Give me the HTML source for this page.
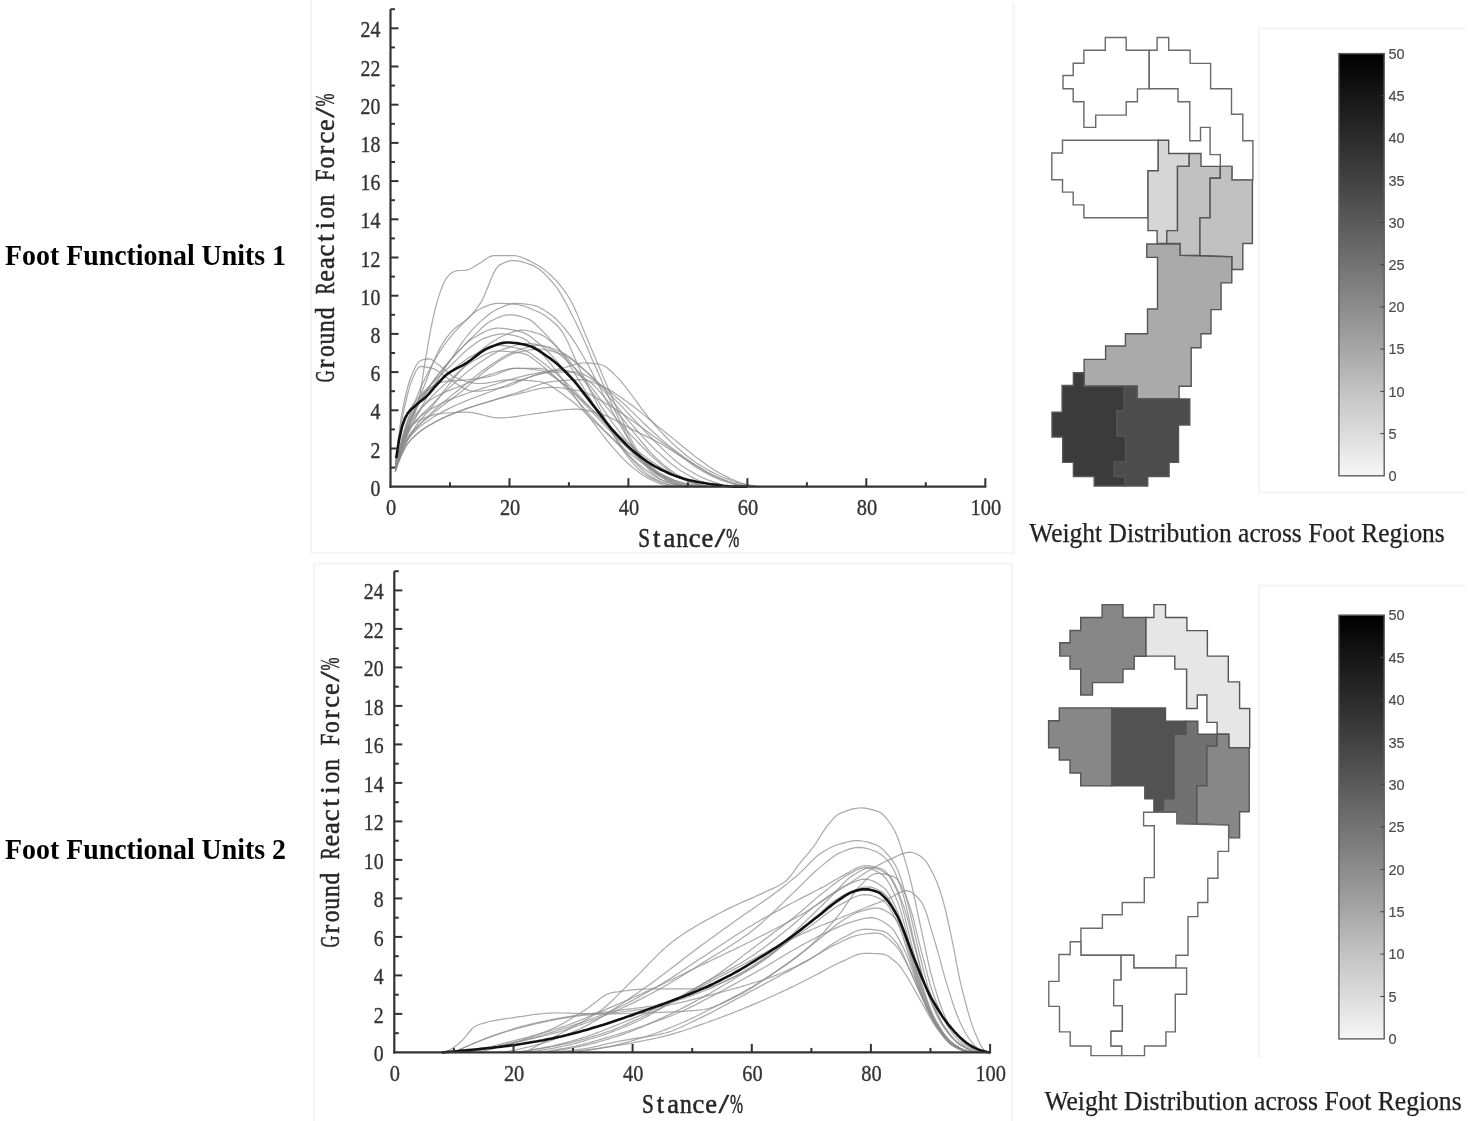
<!DOCTYPE html><html><head><meta charset="utf-8"><style>
html,body{margin:0;padding:0;background:#fff;}body{width:1468px;height:1121px;overflow:hidden;}
svg{display:block;}
.tk{font-family:"Liberation Serif",serif;font-size:21px;fill:#333;stroke:#333;stroke-width:0.35px;}.tky{font-size:22.5px;}
.al{font-family:"Liberation Serif",serif;font-size:26.5px;fill:#262626;stroke:#262626;stroke-width:0.5px;}
.ft{font-family:"Liberation Serif",serif;font-size:28.5px;font-weight:bold;fill:#000;}
.cap{font-family:"Liberation Serif",serif;font-size:26.5px;fill:#222;stroke:#222;stroke-width:0.25px;}
.cb{font-family:"Liberation Sans",sans-serif;font-size:14.5px;fill:#4a4a4a;stroke:#4a4a4a;stroke-width:0.15px;}
</style></head><body>
<svg width="1468" height="1121" viewBox="0 0 1468 1121">
<defs><linearGradient id="g1" x1="0" y1="0" x2="0" y2="1"><stop offset="0.00" stop-color="#000"/><stop offset="0.10" stop-color="#161616"/><stop offset="0.20" stop-color="#2b2b2b"/><stop offset="0.30" stop-color="#424242"/><stop offset="0.40" stop-color="#5a5a5a"/><stop offset="0.50" stop-color="#737373"/><stop offset="0.60" stop-color="#8c8c8c"/><stop offset="0.70" stop-color="#a6a6a6"/><stop offset="0.80" stop-color="#c3c3c3"/><stop offset="0.90" stop-color="#dcdcdc"/><stop offset="1.00" stop-color="#f6f6f6"/></linearGradient></defs>
<rect width="1468" height="1121" fill="#fff"/>
<g fill="none" stroke="#f4f4f4" stroke-width="2"><polyline points="311,0 311,553 1013.5,553 1013.5,3"/><polyline points="314,1121 314,563.5 1012,563.5 1012,1121"/><polyline points="1465,28.5 1259,28.5 1259,492.5 1465,492.5"/><polyline points="1465,585.6 1259,585.6 1259,1058"/></g>
<text x="5" y="265" class="ft" textLength="281" lengthAdjust="spacingAndGlyphs">Foot Functional Units 1</text>
<text x="5" y="858.5" class="ft" textLength="281" lengthAdjust="spacingAndGlyphs">Foot Functional Units 2</text>
<g fill="none" stroke="#8c8c8c" stroke-width="1.2" stroke-opacity="0.75">
<path d="M395.3,471.4 398.2,459.5 401.2,448.5 404.2,438.5 407.2,429.7 410.1,422.9 413.1,417.0 416.1,410.1 419.1,399.6 422.0,382.0 425.0,362.2 428.0,344.7 430.9,328.2 433.9,314.4 436.9,302.3 439.9,292.9 442.8,285.1 445.8,279.0 448.8,275.4 451.8,272.8 454.7,271.2 457.7,270.7 460.7,270.5 463.7,270.4 466.6,270.1 469.6,269.3 472.6,267.7 475.6,265.8 478.5,263.9 481.5,262.2 484.5,260.1 487.5,258.1 490.4,256.4 493.4,255.6 496.4,255.6 499.3,255.6 502.3,255.6 505.3,255.6 508.3,255.6 511.2,255.6 514.2,255.6 517.2,256.0 520.2,256.8 523.1,257.8 526.1,259.1 529.1,260.6 532.1,262.2 535.0,263.8 538.0,265.5 541.0,267.3 544.0,269.5 546.9,271.9 549.9,274.5 552.9,277.3 555.9,280.3 558.8,283.6 561.8,287.3 564.8,291.3 567.8,295.7 570.7,300.5 573.7,306.3 576.7,312.9 579.6,320.1 582.6,327.6 585.6,334.9 588.6,341.9 591.5,349.0 594.5,356.1 597.5,363.2 600.5,370.3 603.4,377.3 606.4,384.3 609.4,391.2 612.4,398.1 615.3,404.9 618.3,411.5 621.3,418.1 624.3,424.8 627.2,431.4 630.2,437.7 633.2,443.5 636.2,448.5 639.1,453.1 642.1,457.4 645.1,461.6 648.0,465.4 651.0,468.8 654.0,471.8 657.0,474.2 659.9,476.3 662.9,478.1 665.9,479.9 668.9,481.4 671.8,482.8 674.8,483.8 677.8,484.6 680.8,485.1 683.7,485.5 686.7,485.9 689.7,486.2 692.7,486.4 695.6,486.6 698.6,486.7 699.8,486.7"/>
<path d="M395.3,471.4 398.2,461.0 401.2,451.0 404.2,441.4 407.2,432.0 410.1,423.1 413.1,414.6 416.1,406.5 419.1,398.8 422.0,391.3 425.0,383.9 428.0,376.3 430.9,368.4 433.9,360.8 436.9,353.9 439.9,348.1 442.8,343.2 445.8,338.7 448.8,334.8 451.8,331.3 454.7,328.4 457.7,326.1 460.7,324.1 463.7,322.0 466.6,319.7 469.6,316.9 472.6,313.6 475.6,310.0 478.5,305.9 481.5,301.4 484.5,295.3 487.5,288.0 490.4,280.5 493.4,273.6 496.4,268.2 499.3,265.1 502.3,263.6 505.3,262.2 508.3,261.2 511.2,260.7 514.2,260.6 517.2,260.9 520.2,261.4 523.1,262.1 526.1,263.0 529.1,264.1 532.1,265.1 535.0,266.5 538.0,268.4 541.0,270.7 544.0,273.3 546.9,276.3 549.9,279.5 552.9,282.9 555.9,286.5 558.8,290.7 561.8,295.6 564.8,300.9 567.8,306.5 570.7,312.4 573.7,318.3 576.7,324.2 579.6,330.5 582.6,337.0 585.6,343.8 588.6,350.7 591.5,357.7 594.5,364.6 597.5,371.3 600.5,378.1 603.4,384.9 606.4,391.7 609.4,398.5 612.4,405.2 615.3,411.6 618.3,417.8 621.3,423.8 624.3,429.8 627.2,435.8 630.2,441.7 633.2,447.4 636.2,452.6 639.1,457.4 642.1,461.6 645.1,465.1 648.0,468.4 651.0,471.5 654.0,474.3 657.0,476.8 659.9,478.9 662.9,480.5 665.9,481.6 668.9,482.7 671.8,483.7 674.8,484.6 677.8,485.4 680.8,486.0 683.7,486.5 686.7,486.7 687.9,486.7"/>
<path d="M395.3,467.6 398.2,455.5 401.2,444.0 404.2,433.3 407.2,423.5 410.1,414.7 413.1,406.4 416.1,398.7 419.1,391.5 422.0,384.7 425.0,378.4 428.0,372.4 430.9,366.7 433.9,361.3 436.9,356.2 439.9,351.5 442.8,347.0 445.8,342.9 448.8,339.0 451.8,335.4 454.7,331.9 457.7,328.6 460.7,325.5 463.7,322.6 466.6,319.6 469.6,316.7 472.6,314.0 475.6,311.6 478.5,309.7 481.5,308.2 484.5,306.9 487.5,305.6 490.4,304.6 493.4,303.8 496.4,303.4 499.3,303.4 502.3,303.4 505.3,303.6 508.3,303.7 511.2,303.9 514.2,304.2 517.2,304.5 520.2,305.1 523.1,305.8 526.1,306.8 529.1,307.9 532.1,309.2 535.0,310.5 538.0,311.8 541.0,313.3 544.0,315.1 546.9,317.1 549.9,319.3 552.9,321.8 555.9,324.5 558.8,327.5 561.8,331.2 564.8,336.2 567.8,342.1 570.7,348.7 573.7,355.6 576.7,362.4 579.6,368.9 582.6,374.9 585.6,380.9 588.6,386.9 591.5,392.8 594.5,398.7 597.5,404.6 600.5,410.2 603.4,415.8 606.4,421.4 609.4,427.0 612.4,432.6 615.3,438.0 618.3,443.1 621.3,447.8 624.3,452.1 627.2,456.0 630.2,459.7 633.2,463.3 636.2,466.6 639.1,469.7 642.1,472.3 645.1,474.5 648.0,476.3 651.0,477.9 654.0,479.4 657.0,480.8 659.9,482.0 662.9,483.0 665.9,483.9 668.9,484.6 671.8,485.1 674.8,485.5 677.8,486.0 680.8,486.3 683.7,486.6 686.7,486.7 687.9,486.7"/>
<path d="M395.3,467.6 398.2,459.1 401.2,450.9 404.2,443.1 407.2,435.9 410.1,429.3 413.1,423.1 416.1,417.2 419.1,411.6 422.0,406.2 425.0,400.9 428.0,395.7 430.9,390.6 433.9,385.7 436.9,380.8 439.9,376.1 442.8,371.4 445.8,366.9 448.8,362.4 451.8,358.0 454.7,353.5 457.7,349.1 460.7,344.7 463.7,340.5 466.6,336.5 469.6,332.8 472.6,329.4 475.6,326.4 478.5,323.4 481.5,320.6 484.5,318.0 487.5,315.5 490.4,313.3 493.4,311.3 496.4,309.6 499.3,308.3 502.3,306.9 505.3,305.7 508.3,304.6 511.2,303.8 514.2,303.4 517.2,303.4 520.2,303.5 523.1,303.8 526.1,304.1 529.1,304.5 532.1,305.0 535.0,305.7 538.0,306.7 541.0,308.2 544.0,309.9 546.9,311.9 549.9,314.0 552.9,316.2 555.9,318.8 558.8,321.8 561.8,325.1 564.8,328.7 567.8,332.4 570.7,336.3 573.7,340.6 576.7,345.2 579.6,350.2 582.6,355.3 585.6,360.5 588.6,365.7 591.5,371.3 594.5,377.1 597.5,383.0 600.5,388.9 603.4,394.7 606.4,400.3 609.4,405.9 612.4,411.5 615.3,417.0 618.3,422.3 621.3,427.4 624.3,432.3 627.2,437.1 630.2,441.8 633.2,446.3 636.2,450.6 639.1,454.6 642.1,458.4 645.1,462.1 648.0,465.8 651.0,469.1 654.0,472.1 657.0,474.5 659.9,476.3 662.9,477.9 665.9,479.4 668.9,480.8 671.8,482.0 674.8,483.0 677.8,483.9 680.8,484.6 683.7,485.1 686.7,485.5 689.7,486.0 692.7,486.3 695.6,486.6 698.6,486.7 699.8,486.7"/>
<path d="M395.3,467.6 398.2,456.0 401.2,445.1 404.2,435.2 407.2,426.7 410.1,419.5 413.1,413.3 416.1,407.6 419.1,402.4 422.0,397.6 425.0,393.0 428.0,388.5 430.9,384.3 433.9,380.2 436.9,376.3 439.9,372.6 442.8,369.0 445.8,365.5 448.8,362.0 451.8,358.6 454.7,355.3 457.7,352.0 460.7,348.8 463.7,345.7 466.6,342.7 469.6,339.8 472.6,336.9 475.6,334.1 478.5,331.2 481.5,328.3 484.5,325.5 487.5,323.1 490.4,321.1 493.4,319.7 496.4,318.3 499.3,317.1 502.3,316.0 505.3,315.2 508.3,314.8 511.2,314.9 514.2,315.2 517.2,315.7 520.2,316.4 523.1,317.3 526.1,318.2 529.1,319.4 532.1,321.3 535.0,323.7 538.0,326.6 541.0,329.6 544.0,332.7 546.9,335.7 549.9,338.9 552.9,342.2 555.9,345.7 558.8,349.4 561.8,353.3 564.8,357.4 567.8,361.9 570.7,366.7 573.7,371.7 576.7,376.7 579.6,381.6 582.6,386.4 585.6,391.3 588.6,396.1 591.5,400.9 594.5,405.7 597.5,410.4 600.5,415.0 603.4,419.6 606.4,424.1 609.4,428.6 612.4,433.0 615.3,437.3 618.3,441.4 621.3,445.6 624.3,449.6 627.2,453.5 630.2,457.2 633.2,460.6 636.2,463.7 639.1,466.7 642.1,469.5 645.1,472.1 648.0,474.4 651.0,476.5 654.0,478.1 657.0,479.7 659.9,481.2 662.9,482.6 665.9,483.9 668.9,485.0 671.8,485.9 674.8,486.5 676.0,486.7"/>
<path d="M395.3,467.6 398.2,459.7 401.2,452.1 404.2,445.2 407.2,439.2 410.1,434.1 413.1,429.6 416.1,425.6 419.1,421.9 422.0,418.4 425.0,415.0 428.0,411.6 430.9,408.0 433.9,404.2 436.9,400.3 439.9,396.3 442.8,392.4 445.8,388.5 448.8,384.6 451.8,380.9 454.7,377.3 457.7,373.9 460.7,370.4 463.7,367.0 466.6,363.7 469.6,360.5 472.6,357.5 475.6,354.7 478.5,352.1 481.5,349.7 484.5,347.4 487.5,345.2 490.4,343.1 493.4,341.2 496.4,339.4 499.3,337.8 502.3,336.3 505.3,335.0 508.3,333.7 511.2,332.5 514.2,331.4 517.2,330.6 520.2,330.1 523.1,330.1 526.1,330.4 529.1,331.0 532.1,331.7 535.0,332.6 538.0,333.5 541.0,334.6 544.0,336.2 546.9,338.3 549.9,340.8 552.9,343.4 555.9,346.2 558.8,349.0 561.8,352.1 564.8,355.5 567.8,359.2 570.7,362.9 573.7,366.8 576.7,370.6 579.6,374.6 582.6,378.7 585.6,382.8 588.6,387.1 591.5,391.4 594.5,395.7 597.5,400.2 600.5,404.8 603.4,409.4 606.4,413.9 609.4,418.2 612.4,422.3 615.3,426.3 618.3,430.2 621.3,434.1 624.3,437.8 627.2,441.4 630.2,444.8 633.2,448.2 636.2,451.5 639.1,454.7 642.1,457.8 645.1,460.7 648.0,463.6 651.0,466.5 654.0,469.4 657.0,472.1 659.9,474.5 662.9,476.5 665.9,478.1 668.9,479.6 671.8,481.0 674.8,482.2 677.8,483.4 680.8,484.4 683.7,485.1 686.7,485.6 689.7,485.9 692.7,486.1 695.6,486.4 698.6,486.5 701.6,486.6 704.6,486.7 705.7,486.7"/>
<path d="M395.3,463.8 398.2,444.8 401.2,429.7 404.2,420.7 407.2,414.1 410.1,408.8 413.1,404.3 416.1,400.3 419.1,396.7 422.0,393.5 425.0,390.5 428.0,387.6 430.9,384.8 433.9,381.8 436.9,378.8 439.9,376.0 442.8,373.2 445.8,370.3 448.8,367.5 451.8,364.6 454.7,361.6 457.7,358.6 460.7,355.6 463.7,352.7 466.6,350.1 469.6,347.8 472.6,345.5 475.6,343.3 478.5,341.3 481.5,339.5 484.5,338.1 487.5,337.1 490.4,336.2 493.4,335.4 496.4,334.7 499.3,334.2 502.3,333.9 505.3,334.0 508.3,334.3 511.2,334.8 514.2,335.5 517.2,336.4 520.2,337.3 523.1,338.4 526.1,340.1 529.1,342.2 532.1,344.6 535.0,347.3 538.0,350.0 541.0,352.8 544.0,355.9 546.9,359.4 549.9,363.0 552.9,366.8 555.9,370.6 558.8,374.4 561.8,378.4 564.8,382.6 567.8,386.8 570.7,391.0 573.7,395.3 576.7,399.4 579.6,403.6 582.6,407.8 585.6,412.0 588.6,416.1 591.5,420.2 594.5,424.1 597.5,428.1 600.5,432.0 603.4,435.9 606.4,439.7 609.4,443.3 612.4,446.8 615.3,450.2 618.3,453.6 621.3,456.8 624.3,459.9 627.2,462.7 630.2,465.3 633.2,467.9 636.2,470.3 639.1,472.6 642.1,474.7 645.1,476.5 648.0,478.1 651.0,479.6 654.0,481.0 657.0,482.4 659.9,483.6 662.9,484.7 665.9,485.7 668.9,486.4 670.1,486.7"/>
<path d="M395.3,467.6 398.2,457.7 401.2,448.4 404.2,440.2 407.2,433.5 410.1,428.5 413.1,424.2 416.1,420.6 419.1,417.3 422.0,414.3 425.0,411.5 428.0,408.7 430.9,405.8 433.9,402.7 436.9,399.7 439.9,396.7 442.8,393.8 445.8,390.9 448.8,388.1 451.8,385.4 454.7,382.7 457.7,380.1 460.7,377.5 463.7,374.9 466.6,372.4 469.6,370.0 472.6,367.7 475.6,365.4 478.5,363.3 481.5,361.4 484.5,359.4 487.5,357.5 490.4,355.6 493.4,353.9 496.4,352.3 499.3,350.8 502.3,349.6 505.3,348.6 508.3,347.6 511.2,346.6 514.2,345.7 517.2,344.8 520.2,344.2 523.1,343.7 526.1,343.5 529.1,343.5 532.1,343.8 535.0,344.2 538.0,344.9 541.0,345.7 544.0,346.6 546.9,347.7 549.9,348.7 552.9,350.0 555.9,351.7 558.8,353.8 561.8,356.2 564.8,358.8 567.8,361.5 570.7,364.2 573.7,367.1 576.7,370.2 579.6,373.4 582.6,376.8 585.6,380.3 588.6,383.8 591.5,387.5 594.5,391.4 597.5,395.3 600.5,399.3 603.4,403.1 606.4,406.8 609.4,410.4 612.4,413.9 615.3,417.4 618.3,420.9 621.3,424.2 624.3,427.6 627.2,430.9 630.2,434.1 633.2,437.3 636.2,440.4 639.1,443.5 642.1,446.5 645.1,449.5 648.0,452.5 651.0,455.4 654.0,458.2 657.0,460.9 659.9,463.4 662.9,465.9 665.9,468.3 668.9,470.6 671.8,472.7 674.8,474.6 677.8,476.2 680.8,477.7 683.7,479.2 686.7,480.6 689.7,481.8 692.7,482.9 695.6,483.9 698.6,484.6 701.6,485.1 704.6,485.5 707.5,486.0 710.5,486.3 713.5,486.6 716.5,486.7 717.6,486.7"/>
<path d="M395.3,467.6 398.2,439.9 401.2,417.3 404.2,401.4 407.2,388.7 410.1,379.0 413.1,371.7 416.1,365.5 419.1,361.4 422.0,360.0 425.0,359.2 428.0,358.8 430.9,359.1 433.9,361.1 436.9,363.6 439.9,365.8 442.8,368.2 445.8,370.8 448.8,373.3 451.8,375.6 454.7,377.3 457.7,378.5 460.7,379.6 463.7,380.6 466.6,381.5 469.6,382.3 472.6,382.9 475.6,383.3 478.5,383.5 481.5,383.5 484.5,383.3 487.5,382.9 490.4,382.4 493.4,381.9 496.4,381.3 499.3,380.8 502.3,380.3 505.3,379.9 508.3,379.8 511.2,379.7 514.2,379.8 517.2,379.9 520.2,380.0 523.1,380.2 526.1,380.4 529.1,380.6 532.1,380.9 535.0,381.2 538.0,381.5 541.0,381.9 544.0,382.8 546.9,384.0 549.9,385.5 552.9,387.3 555.9,389.3 558.8,391.4 561.8,393.6 564.8,395.8 567.8,398.0 570.7,400.1 573.7,402.5 576.7,405.0 579.6,407.6 582.6,410.4 585.6,413.2 588.6,416.0 591.5,418.9 594.5,421.7 597.5,424.5 600.5,427.2 603.4,429.9 606.4,432.7 609.4,435.5 612.4,438.2 615.3,441.0 618.3,443.7 621.3,446.3 624.3,448.9 627.2,451.4 630.2,453.7 633.2,456.1 636.2,458.5 639.1,460.8 642.1,463.1 645.1,465.3 648.0,467.4 651.0,469.4 654.0,471.2 657.0,472.8 659.9,474.2 662.9,475.5 665.9,476.8 668.9,478.1 671.8,479.2 674.8,480.3 677.8,481.3 680.8,482.2 683.7,483.0 686.7,483.6 689.7,484.1 692.7,484.7 695.6,485.1 698.6,485.6 701.6,486.0 704.6,486.3 707.5,486.5 710.5,486.7 711.7,486.7"/>
<path d="M395.3,467.6 398.2,444.3 401.2,424.5 404.2,408.9 407.2,395.5 410.1,384.9 413.1,377.3 416.1,370.7 419.1,366.8 422.0,366.4 425.0,366.8 428.0,367.3 430.9,368.0 433.9,368.9 436.9,370.4 439.9,372.4 442.8,374.7 445.8,377.0 448.8,379.0 451.8,380.8 454.7,382.6 457.7,384.5 460.7,386.4 463.7,388.1 466.6,389.6 469.6,390.6 472.6,391.1 475.6,391.2 478.5,391.1 481.5,390.8 484.5,390.5 487.5,390.2 490.4,389.7 493.4,389.3 496.4,388.7 499.3,388.2 502.3,387.6 505.3,387.0 508.3,386.1 511.2,385.0 514.2,383.8 517.2,382.4 520.2,381.1 523.1,379.7 526.1,378.4 529.1,377.2 532.1,376.2 535.0,375.5 538.0,374.7 541.0,373.9 544.0,373.1 546.9,372.4 549.9,371.7 552.9,371.1 555.9,370.7 558.8,370.4 561.8,370.2 564.8,370.3 567.8,370.7 570.7,371.6 573.7,372.7 576.7,374.1 579.6,375.6 582.6,377.3 585.6,379.0 588.6,380.9 591.5,383.2 594.5,386.0 597.5,389.2 600.5,392.6 603.4,396.2 606.4,399.7 609.4,403.2 612.4,406.6 615.3,410.1 618.3,413.6 621.3,417.3 624.3,421.0 627.2,424.6 630.2,428.3 633.2,431.8 636.2,435.3 639.1,438.9 642.1,442.5 645.1,446.0 648.0,449.5 651.0,452.9 654.0,456.0 657.0,458.9 659.9,461.5 662.9,464.1 665.9,466.6 668.9,468.9 671.8,471.1 674.8,473.2 677.8,475.0 680.8,476.6 683.7,478.0 686.7,479.3 689.7,480.5 692.7,481.7 695.6,482.8 698.6,483.8 701.6,484.7 704.6,485.5 707.5,486.1 710.5,486.6 711.7,486.7"/>
<path d="M395.3,467.6 398.2,454.8 401.2,443.6 404.2,435.4 407.2,430.7 410.1,427.2 413.1,424.4 416.1,422.1 419.1,420.4 422.0,419.1 425.0,417.9 428.0,416.7 430.9,415.8 433.9,414.9 436.9,414.2 439.9,413.6 442.8,413.3 445.8,413.0 448.8,412.8 451.8,412.7 454.7,412.5 457.7,412.4 460.7,412.3 463.7,412.2 466.6,412.2 469.6,412.3 472.6,412.7 475.6,413.3 478.5,413.9 481.5,414.7 484.5,415.5 487.5,416.2 490.4,416.9 493.4,417.4 496.4,417.8 499.3,417.9 502.3,417.9 505.3,417.7 508.3,417.5 511.2,417.2 514.2,416.8 517.2,416.4 520.2,415.9 523.1,415.4 526.1,415.0 529.1,414.5 532.1,414.1 535.0,413.6 538.0,413.3 541.0,412.9 544.0,412.5 546.9,412.1 549.9,411.6 552.9,411.2 555.9,410.8 558.8,410.4 561.8,410.0 564.8,409.7 567.8,409.5 570.7,409.3 573.7,409.2 576.7,409.2 579.6,409.3 582.6,409.7 585.6,410.2 588.6,410.8 591.5,411.5 594.5,412.3 597.5,413.1 600.5,414.0 603.4,414.9 606.4,415.9 609.4,417.2 612.4,418.6 615.3,420.2 618.3,421.9 621.3,423.6 624.3,425.3 627.2,426.9 630.2,428.4 633.2,429.9 636.2,431.4 639.1,432.8 642.1,434.2 645.1,435.6 648.0,437.1 651.0,438.6 654.0,440.1 657.0,441.7 659.9,443.3 662.9,445.1 665.9,446.9 668.9,448.7 671.8,450.6 674.8,452.5 677.8,454.4 680.8,456.2 683.7,458.1 686.7,459.9 689.7,461.8 692.7,463.7 695.6,465.6 698.6,467.4 701.6,469.2 704.6,471.0 707.5,472.6 710.5,474.1 713.5,475.5 716.5,476.8 719.4,478.2 722.4,479.4 725.4,480.6 728.3,481.8 731.3,482.8 734.3,483.7 737.3,484.4 740.2,485.0 743.2,485.5 746.2,486.0 749.2,486.4 752.1,486.6 753.3,486.7"/>
<path d="M395.3,471.4 398.2,461.1 401.2,451.2 404.2,442.1 407.2,434.3 410.1,428.2 413.1,424.1 416.1,420.8 419.1,417.9 422.0,415.3 425.0,413.0 428.0,411.0 430.9,409.1 433.9,407.4 436.9,405.8 439.9,404.3 442.8,402.8 445.8,401.4 448.8,400.1 451.8,398.9 454.7,397.8 457.7,396.7 460.7,395.6 463.7,394.6 466.6,393.5 469.6,392.5 472.6,391.5 475.6,390.5 478.5,389.5 481.5,388.6 484.5,387.6 487.5,386.7 490.4,385.8 493.4,384.9 496.4,384.0 499.3,383.0 502.3,382.1 505.3,381.1 508.3,380.2 511.2,379.3 514.2,378.4 517.2,377.6 520.2,376.8 523.1,376.1 526.1,375.4 529.1,374.7 532.1,374.1 535.0,373.5 538.0,372.9 541.0,372.4 544.0,371.8 546.9,371.3 549.9,370.7 552.9,370.1 555.9,369.5 558.8,368.9 561.8,368.3 564.8,367.5 567.8,366.6 570.7,365.7 573.7,364.7 576.7,363.9 579.6,363.3 582.6,363.0 585.6,363.0 588.6,363.1 591.5,363.3 594.5,363.6 597.5,364.0 600.5,364.5 603.4,365.5 606.4,367.3 609.4,369.7 612.4,372.5 615.3,375.4 618.3,378.3 621.3,381.6 624.3,385.4 627.2,389.2 630.2,393.1 633.2,397.0 636.2,401.1 639.1,405.2 642.1,409.3 645.1,413.2 648.0,416.9 651.0,420.4 654.0,424.0 657.0,427.4 659.9,430.7 662.9,433.9 665.9,437.0 668.9,439.9 671.8,442.8 674.8,445.6 677.8,448.2 680.8,450.8 683.7,453.3 686.7,455.7 689.7,458.0 692.7,460.2 695.6,462.3 698.6,464.3 701.6,466.2 704.6,468.1 707.5,469.8 710.5,471.4 713.5,472.9 716.5,474.3 719.4,475.7 722.4,477.0 725.4,478.3 728.3,479.4 731.3,480.5 734.3,481.5 737.3,482.4 740.2,483.2 743.2,483.9 746.2,484.6 749.2,485.2 752.1,485.7 755.1,486.2 758.1,486.6 759.3,486.7"/>
<path d="M395.3,471.4 398.2,462.5 401.2,454.0 404.2,446.6 407.2,440.7 410.1,436.6 413.1,433.1 416.1,430.0 419.1,427.3 422.0,424.9 425.0,422.7 428.0,420.7 430.9,418.7 433.9,416.8 436.9,415.0 439.9,413.3 442.8,411.6 445.8,410.1 448.8,408.6 451.8,407.2 454.7,405.8 457.7,404.5 460.7,403.2 463.7,401.9 466.6,400.6 469.6,399.4 472.6,398.3 475.6,397.2 478.5,396.1 481.5,395.0 484.5,393.9 487.5,392.8 490.4,391.7 493.4,390.5 496.4,389.3 499.3,388.1 502.3,386.9 505.3,385.7 508.3,384.5 511.2,383.3 514.2,382.2 517.2,381.1 520.2,380.1 523.1,379.2 526.1,378.2 529.1,377.2 532.1,376.1 535.0,375.1 538.0,374.2 541.0,373.4 544.0,372.8 546.9,372.4 549.9,372.1 552.9,372.1 555.9,372.1 558.8,372.1 561.8,372.1 564.8,372.1 567.8,372.1 570.7,372.1 573.7,372.1 576.7,372.2 579.6,372.8 582.6,373.9 585.6,375.4 588.6,377.1 591.5,379.0 594.5,380.9 597.5,382.8 600.5,384.7 603.4,386.7 606.4,388.9 609.4,391.3 612.4,393.8 615.3,396.4 618.3,399.0 621.3,401.6 624.3,404.3 627.2,407.0 630.2,409.9 633.2,412.8 636.2,415.8 639.1,418.7 642.1,421.6 645.1,424.5 648.0,427.2 651.0,430.0 654.0,432.7 657.0,435.4 659.9,438.1 662.9,440.7 665.9,443.2 668.9,445.6 671.8,448.0 674.8,450.3 677.8,452.6 680.8,454.8 683.7,457.0 686.7,459.0 689.7,461.1 692.7,463.0 695.6,464.9 698.6,466.8 701.6,468.6 704.6,470.4 707.5,472.2 710.5,473.8 713.5,475.3 716.5,476.7 719.4,477.9 722.4,479.1 725.4,480.2 728.3,481.3 731.3,482.3 734.3,483.2 737.3,484.0 740.2,484.6 743.2,485.1 746.2,485.5 749.2,485.9 752.1,486.3 755.1,486.5 758.1,486.7 759.3,486.7"/>
<path d="M395.3,467.6 398.2,456.0 401.2,445.0 404.2,435.4 407.2,427.9 410.1,422.6 413.1,418.0 416.1,413.9 419.1,410.3 422.0,407.1 425.0,404.3 428.0,401.8 430.9,399.6 433.9,397.7 436.9,396.0 439.9,394.5 442.8,393.1 445.8,391.8 448.8,390.6 451.8,389.4 454.7,388.3 457.7,387.1 460.7,386.0 463.7,384.7 466.6,383.5 469.6,382.2 472.6,381.0 475.6,379.8 478.5,378.6 481.5,377.4 484.5,376.3 487.5,375.3 490.4,374.4 493.4,373.5 496.4,372.5 499.3,371.6 502.3,370.6 505.3,369.8 508.3,369.1 511.2,368.6 514.2,368.3 517.2,368.3 520.2,368.4 523.1,368.5 526.1,368.7 529.1,369.0 532.1,369.3 535.0,369.6 538.0,370.0 541.0,370.5 544.0,371.5 546.9,372.8 549.9,374.5 552.9,376.4 555.9,378.5 558.8,380.6 561.8,382.7 564.8,384.8 567.8,387.1 570.7,389.6 573.7,392.3 576.7,395.0 579.6,397.8 582.6,400.7 585.6,403.5 588.6,406.2 591.5,409.1 594.5,411.9 597.5,414.9 600.5,417.8 603.4,420.7 606.4,423.6 609.4,426.4 612.4,429.1 615.3,431.9 618.3,434.6 621.3,437.3 624.3,440.0 627.2,442.6 630.2,445.1 633.2,447.5 636.2,449.9 639.1,452.2 642.1,454.5 645.1,456.7 648.0,458.9 651.0,461.0 654.0,463.0 657.0,464.9 659.9,466.8 662.9,468.7 665.9,470.5 668.9,472.3 671.8,474.1 674.8,475.7 677.8,477.2 680.8,478.6 683.7,479.8 686.7,480.9 689.7,482.1 692.7,483.1 695.6,484.1 698.6,485.0 701.6,485.8 704.6,486.5 705.7,486.7"/>
<path d="M395.3,467.6 398.2,457.4 401.2,447.8 404.2,439.3 407.2,431.9 410.1,425.9 413.1,420.7 416.1,415.9 419.1,411.7 422.0,407.7 425.0,404.1 428.0,400.6 430.9,397.3 433.9,394.3 436.9,391.4 439.9,388.6 442.8,386.0 445.8,383.4 448.8,380.8 451.8,378.2 454.7,375.5 457.7,372.8 460.7,370.2 463.7,367.7 466.6,365.3 469.6,363.2 472.6,361.3 475.6,359.7 478.5,358.0 481.5,356.4 484.5,354.8 487.5,353.5 490.4,352.4 493.4,351.5 496.4,351.1 499.3,351.1 502.3,351.2 505.3,351.3 508.3,351.5 511.2,351.8 514.2,352.1 517.2,352.4 520.2,352.8 523.1,353.4 526.1,354.4 529.1,356.0 532.1,357.9 535.0,360.1 538.0,362.5 541.0,364.9 544.0,367.3 546.9,369.7 549.9,372.2 552.9,374.9 555.9,377.8 558.8,380.7 561.8,383.8 564.8,386.9 567.8,390.0 570.7,393.1 573.7,396.3 576.7,399.7 579.6,403.1 582.6,406.5 585.6,409.9 588.6,413.3 591.5,416.6 594.5,419.9 597.5,423.1 600.5,426.2 603.4,429.3 606.4,432.5 609.4,435.5 612.4,438.6 615.3,441.6 618.3,444.6 621.3,447.6 624.3,450.7 627.2,453.7 630.2,456.7 633.2,459.5 636.2,462.2 639.1,464.8 642.1,467.1 645.1,469.4 648.0,471.6 651.0,473.8 654.0,475.8 657.0,477.6 659.9,479.2 662.9,480.5 665.9,481.6 668.9,482.6 671.8,483.6 674.8,484.4 677.8,485.2 680.8,485.8 683.7,486.3 686.7,486.6 687.9,486.7"/>
<path d="M395.3,467.6 398.2,456.6 401.2,446.2 404.2,436.8 407.2,428.5 410.1,421.5 413.1,415.0 416.1,409.0 419.1,403.6 422.0,398.8 425.0,394.6 428.0,391.0 430.9,387.8 433.9,385.0 436.9,382.4 439.9,379.9 442.8,377.6 445.8,375.3 448.8,373.0 451.8,370.7 454.7,368.3 457.7,365.9 460.7,363.6 463.7,361.3 466.6,359.2 469.6,357.3 472.6,355.5 475.6,354.0 478.5,352.3 481.5,350.7 484.5,349.2 487.5,347.8 490.4,346.6 493.4,345.8 496.4,345.4 499.3,345.4 502.3,345.6 505.3,345.9 508.3,346.3 511.2,346.8 514.2,347.5 517.2,348.1 520.2,348.9 523.1,349.7 526.1,351.0 529.1,352.6 532.1,354.5 535.0,356.7 538.0,358.9 541.0,361.3 544.0,363.6 546.9,365.8 549.9,368.2 552.9,370.7 555.9,373.3 558.8,376.0 561.8,378.7 564.8,381.5 567.8,384.3 570.7,387.2 573.7,390.2 576.7,393.2 579.6,396.4 582.6,399.5 585.6,402.7 588.6,405.9 591.5,409.1 594.5,412.2 597.5,415.3 600.5,418.4 603.4,421.6 606.4,424.7 609.4,427.8 612.4,430.9 615.3,433.9 618.3,436.9 621.3,439.9 624.3,442.9 627.2,445.9 630.2,448.9 633.2,451.7 636.2,454.5 639.1,457.1 642.1,459.5 645.1,462.0 648.0,464.4 651.0,466.7 654.0,468.9 657.0,471.0 659.9,472.9 662.9,474.6 665.9,476.2 668.9,477.7 671.8,479.1 674.8,480.5 677.8,481.8 680.8,482.9 683.7,483.9 686.7,484.6 689.7,485.1 692.7,485.5 695.6,486.0 698.6,486.3 701.6,486.6 704.6,486.7 705.7,486.7"/>
<path d="M395.3,469.5 398.2,460.6 401.2,452.3 404.2,444.9 407.2,438.9 410.1,434.6 413.1,430.9 416.1,427.7 419.1,424.9 422.0,422.3 425.0,419.9 428.0,417.5 430.9,415.1 433.9,412.6 436.9,410.2 439.9,407.8 442.8,405.6 445.8,403.3 448.8,401.1 451.8,398.9 454.7,396.7 457.7,394.5 460.7,392.1 463.7,389.7 466.6,387.2 469.6,384.6 472.6,382.0 475.6,379.3 478.5,376.7 481.5,374.1 484.5,371.7 487.5,369.3 490.4,367.2 493.4,365.2 496.4,363.1 499.3,361.1 502.3,359.2 505.3,357.4 508.3,355.8 511.2,354.4 514.2,353.3 517.2,352.6 520.2,351.8 523.1,351.2 526.1,350.6 529.1,350.0 532.1,349.6 535.0,349.3 538.0,349.2 541.0,349.2 544.0,349.5 546.9,350.0 549.9,350.7 552.9,351.5 555.9,352.4 558.8,353.4 561.8,354.5 564.8,355.6 567.8,357.2 570.7,359.0 573.7,361.2 576.7,363.6 579.6,366.0 582.6,368.6 585.6,371.1 588.6,373.6 591.5,376.2 594.5,379.0 597.5,381.9 600.5,384.8 603.4,387.8 606.4,390.8 609.4,393.8 612.4,396.8 615.3,399.9 618.3,402.9 621.3,406.1 624.3,409.2 627.2,412.3 630.2,415.5 633.2,418.6 636.2,421.7 639.1,424.9 642.1,428.1 645.1,431.3 648.0,434.4 651.0,437.5 654.0,440.6 657.0,443.5 659.9,446.4 662.9,449.3 665.9,452.1 668.9,454.9 671.8,457.6 674.8,460.2 677.8,462.6 680.8,464.9 683.7,466.9 686.7,468.9 689.7,470.7 692.7,472.5 695.6,474.2 698.6,475.8 701.6,477.2 704.6,478.6 707.5,479.8 710.5,480.9 713.5,482.1 716.5,483.1 719.4,484.1 722.4,485.0 725.4,485.8 728.3,486.5 729.5,486.7"/>
<path d="M395.3,471.4 398.2,463.5 401.2,456.1 404.2,449.6 407.2,444.4 410.1,440.7 413.1,437.5 416.1,434.7 419.1,432.2 422.0,430.0 425.0,428.0 428.0,426.1 430.9,424.4 433.9,422.7 436.9,421.0 439.9,419.5 442.8,418.1 445.8,416.7 448.8,415.4 451.8,414.2 454.7,413.0 457.7,411.9 460.7,410.7 463.7,409.6 466.6,408.6 469.6,407.6 472.6,406.6 475.6,405.7 478.5,404.8 481.5,403.9 484.5,403.0 487.5,402.1 490.4,401.1 493.4,400.2 496.4,399.2 499.3,398.3 502.3,397.3 505.3,396.4 508.3,395.4 511.2,394.4 514.2,393.5 517.2,392.5 520.2,391.6 523.1,390.6 526.1,389.5 529.1,388.4 532.1,387.2 535.0,386.1 538.0,385.0 541.0,384.0 544.0,383.1 546.9,382.3 549.9,381.8 552.9,381.5 555.9,381.2 558.8,380.9 561.8,380.6 564.8,380.4 567.8,380.2 570.7,380.0 573.7,379.9 576.7,379.8 579.6,379.7 582.6,379.8 585.6,380.2 588.6,380.9 591.5,381.9 594.5,383.0 597.5,384.2 600.5,385.5 603.4,386.9 606.4,388.2 609.4,389.7 612.4,391.5 615.3,393.4 618.3,395.4 621.3,397.5 624.3,399.7 627.2,401.8 630.2,404.0 633.2,406.2 636.2,408.6 639.1,411.0 642.1,413.4 645.1,415.9 648.0,418.4 651.0,420.8 654.0,423.2 657.0,425.6 659.9,428.0 662.9,430.4 665.9,432.7 668.9,435.1 671.8,437.5 674.8,439.9 677.8,442.3 680.8,444.7 683.7,447.2 686.7,449.7 689.7,452.1 692.7,454.5 695.6,456.9 698.6,459.1 701.6,461.2 704.6,463.3 707.5,465.4 710.5,467.5 713.5,469.4 716.5,471.3 719.4,473.0 722.4,474.6 725.4,476.1 728.3,477.6 731.3,479.0 734.3,480.3 737.3,481.6 740.2,482.7 743.2,483.7 746.2,484.5 749.2,485.2 752.1,485.7 755.1,486.2 758.1,486.6 759.3,486.7"/>
<path d="M395.3,467.6 398.2,453.8 401.2,441.0 404.2,429.8 407.2,420.8 410.1,414.1 413.1,408.4 416.1,403.3 419.1,398.9 422.0,395.2 425.0,392.2 428.0,389.8 430.9,387.6 433.9,385.7 436.9,384.0 439.9,382.7 442.8,381.9 445.8,381.4 448.8,381.1 451.8,380.8 454.7,380.7 457.7,380.5 460.7,380.3 463.7,380.1 466.6,379.9 469.6,379.5 472.6,379.2 475.6,378.8 478.5,378.3 481.5,377.9 484.5,377.3 487.5,376.8 490.4,376.2 493.4,375.5 496.4,374.5 499.3,373.3 502.3,372.0 505.3,370.7 508.3,369.6 511.2,368.8 514.2,368.3 517.2,368.3 520.2,368.3 523.1,368.3 526.1,368.3 529.1,368.3 532.1,368.3 535.0,368.3 538.0,368.3 541.0,368.4 544.0,369.3 546.9,370.8 549.9,372.7 552.9,375.0 555.9,377.6 558.8,380.1 561.8,382.6 564.8,385.0 567.8,387.5 570.7,390.3 573.7,393.1 576.7,396.1 579.6,399.2 582.6,402.2 585.6,405.3 588.6,408.3 591.5,411.4 594.5,414.5 597.5,417.6 600.5,420.8 603.4,423.9 606.4,427.1 609.4,430.1 612.4,433.1 615.3,436.1 618.3,439.0 621.3,442.0 624.3,444.9 627.2,447.7 630.2,450.5 633.2,453.2 636.2,455.8 639.1,458.5 642.1,461.1 645.1,463.8 648.0,466.3 651.0,468.6 654.0,470.8 657.0,472.7 659.9,474.3 662.9,475.7 665.9,477.1 668.9,478.4 671.8,479.6 674.8,480.7 677.8,481.6 680.8,482.5 683.7,483.4 686.7,484.1 689.7,484.8 692.7,485.5 695.6,486.1 698.6,486.5 699.8,486.7"/>
<path d="M395.3,469.5 398.2,462.2 401.2,455.3 404.2,449.3 407.2,444.3 410.1,440.7 413.1,437.6 416.1,434.8 419.1,432.3 422.0,430.1 425.0,428.0 428.0,426.1 430.9,424.4 433.9,422.7 436.9,421.0 439.9,419.5 442.8,418.1 445.8,416.7 448.8,415.4 451.8,414.2 454.7,413.0 457.7,411.9 460.7,410.7 463.7,409.6 466.6,408.6 469.6,407.5 472.6,406.5 475.6,405.6 478.5,404.6 481.5,403.7 484.5,402.8 487.5,402.0 490.4,401.1 493.4,400.2 496.4,399.4 499.3,398.6 502.3,397.8 505.3,397.0 508.3,396.2 511.2,395.5 514.2,394.8 517.2,394.1 520.2,393.4 523.1,392.7 526.1,392.0 529.1,391.2 532.1,390.5 535.0,389.7 538.0,389.0 541.0,388.4 544.0,387.9 546.9,387.6 549.9,387.4 552.9,387.4 555.9,387.5 558.8,387.7 561.8,388.0 564.8,388.4 567.8,388.8 570.7,389.3 573.7,389.8 576.7,390.4 579.6,391.0 582.6,391.6 585.6,392.6 588.6,393.8 591.5,395.3 594.5,396.9 597.5,398.6 600.5,400.3 603.4,402.0 606.4,403.7 609.4,405.4 612.4,407.2 615.3,409.1 618.3,411.1 621.3,413.1 624.3,415.1 627.2,417.1 630.2,419.2 633.2,421.2 636.2,423.4 639.1,425.5 642.1,427.7 645.1,429.9 648.0,432.1 651.0,434.3 654.0,436.4 657.0,438.6 659.9,440.7 662.9,442.9 665.9,445.0 668.9,447.2 671.8,449.3 674.8,451.5 677.8,453.6 680.8,455.9 683.7,458.2 686.7,460.4 689.7,462.7 692.7,464.9 695.6,466.9 698.6,468.8 701.6,470.5 704.6,472.2 707.5,473.8 710.5,475.4 713.5,476.9 716.5,478.2 719.4,479.5 722.4,480.6 725.4,481.5 728.3,482.5 731.3,483.3 734.3,484.1 737.3,484.9 740.2,485.5 743.2,486.1 746.2,486.5 747.4,486.7"/>
<path d="M395.3,467.6 398.2,455.2 401.2,443.7 404.2,433.4 407.2,424.7 410.1,417.8 413.1,411.8 416.1,406.5 419.1,401.7 422.0,397.3 425.0,392.9 428.0,388.6 430.9,384.4 433.9,380.3 436.9,376.3 439.9,372.5 442.8,368.9 445.8,365.4 448.8,362.0 451.8,358.7 454.7,355.3 457.7,352.0 460.7,348.8 463.7,345.8 466.6,343.0 469.6,340.5 472.6,338.4 475.6,336.7 478.5,335.0 481.5,333.4 484.5,331.8 487.5,330.5 490.4,329.4 493.4,328.6 496.4,328.2 499.3,328.2 502.3,328.4 505.3,328.7 508.3,329.1 511.2,329.6 514.2,330.2 517.2,330.9 520.2,331.7 523.1,332.6 526.1,333.9 529.1,335.7 532.1,337.8 535.0,340.2 538.0,342.8 541.0,345.5 544.0,348.1 546.9,350.8 549.9,353.7 552.9,356.9 555.9,360.2 558.8,363.7 561.8,367.3 564.8,370.9 567.8,374.5 570.7,378.1 573.7,381.8 576.7,385.6 579.6,389.5 582.6,393.4 585.6,397.3 588.6,401.2 591.5,405.0 594.5,408.7 597.5,412.4 600.5,416.1 603.4,419.7 606.4,423.3 609.4,426.9 612.4,430.4 615.3,433.8 618.3,437.1 621.3,440.5 624.3,443.8 627.2,447.0 630.2,450.2 633.2,453.3 636.2,456.2 639.1,458.9 642.1,461.5 645.1,464.0 648.0,466.4 651.0,468.7 654.0,470.9 657.0,472.9 659.9,474.8 662.9,476.5 665.9,478.1 668.9,479.5 671.8,480.9 674.8,482.2 677.8,483.5 680.8,484.6 683.7,485.6 686.7,486.4 687.9,486.7"/>
<path d="M395.3,469.5 398.2,461.4 401.2,453.7 404.2,446.8 407.2,440.9 410.1,436.2 413.1,432.1 416.1,428.4 419.1,425.0 422.0,421.9 425.0,419.0 428.0,416.2 430.9,413.3 433.9,410.5 436.9,407.8 439.9,405.2 442.8,402.6 445.8,400.2 448.8,397.8 451.8,395.4 454.7,393.0 457.7,390.7 460.7,388.3 463.7,385.9 466.6,383.5 469.6,381.1 472.6,378.7 475.6,376.3 478.5,373.9 481.5,371.6 484.5,369.4 487.5,367.3 490.4,365.2 493.4,363.3 496.4,361.4 499.3,359.4 502.3,357.6 505.3,355.8 508.3,354.2 511.2,352.7 514.2,351.5 517.2,350.5 520.2,349.5 523.1,348.5 526.1,347.6 529.1,346.8 532.1,346.1 535.0,345.6 538.0,345.4 541.0,345.4 544.0,345.8 546.9,346.5 549.9,347.4 552.9,348.5 555.9,349.7 558.8,351.1 561.8,352.5 564.8,353.9 567.8,355.7 570.7,357.8 573.7,360.1 576.7,362.7 579.6,365.4 582.6,368.2 585.6,371.0 588.6,373.8 591.5,376.8 594.5,380.1 597.5,383.4 600.5,386.9 603.4,390.4 606.4,393.9 609.4,397.5 612.4,400.9 615.3,404.5 618.3,408.2 621.3,411.8 624.3,415.5 627.2,419.1 630.2,422.7 633.2,426.1 636.2,429.5 639.1,432.8 642.1,436.1 645.1,439.3 648.0,442.4 651.0,445.5 654.0,448.4 657.0,451.2 659.9,453.9 662.9,456.6 665.9,459.2 668.9,461.8 671.8,464.2 674.8,466.5 677.8,468.7 680.8,470.7 683.7,472.5 686.7,474.3 689.7,476.0 692.7,477.6 695.6,479.1 698.6,480.5 701.6,481.6 704.6,482.6 707.5,483.3 710.5,484.0 713.5,484.7 716.5,485.3 719.4,485.8 722.4,486.2 725.4,486.5 728.3,486.7 729.5,486.7"/>
</g>
<path d="M396.2,458.1 399.1,439.6 402.1,426.3 405.1,418.0 408.0,412.9 411.0,409.5 414.0,406.9 417.0,404.2 419.9,401.8 422.9,399.5 425.9,396.9 428.9,393.8 431.8,390.3 434.8,386.8 437.8,383.6 440.8,380.3 443.7,377.2 446.7,374.5 449.7,372.4 452.7,370.5 455.6,368.9 458.6,367.3 461.6,365.8 464.6,364.2 467.5,362.4 470.5,360.3 473.5,358.0 476.4,355.7 479.4,353.4 482.4,351.3 485.4,349.4 488.3,348.0 491.3,346.8 494.3,345.6 497.3,344.5 500.2,343.6 503.2,342.9 506.2,342.5 509.2,342.5 512.1,342.7 515.1,343.0 518.1,343.4 521.1,344.0 524.0,344.6 527.0,345.2 530.0,346.1 533.0,347.4 535.9,349.0 538.9,350.7 541.9,352.7 544.9,354.7 547.8,356.8 550.8,358.9 553.8,361.2 556.7,363.6 559.7,366.3 562.7,369.1 565.7,372.0 568.6,375.0 571.6,378.1 574.6,381.4 577.6,385.0 580.5,388.8 583.5,392.6 586.5,396.5 589.5,400.4 592.4,404.2 595.4,408.0 598.4,411.9 601.4,415.9 604.3,419.8 607.3,423.6 610.3,427.3 613.3,430.8 616.2,434.1 619.2,437.3 622.2,440.4 625.1,443.5 628.1,446.4 631.1,449.1 634.1,451.7 637.0,454.1 640.0,456.4 643.0,458.6 646.0,460.7 648.9,462.7 651.9,464.6 654.9,466.3 657.9,467.9 660.8,469.5 663.8,470.9 666.8,472.3 669.8,473.7 672.7,474.9 675.7,476.1 678.7,477.1 681.7,478.1 684.6,478.9 687.6,479.7 690.6,480.4 693.6,481.1 696.5,481.7 699.5,482.3 702.5,482.8 705.4,483.3 708.4,483.8 711.4,484.2 714.4,484.6 717.3,484.9 720.3,485.3 723.3,485.7 726.3,486.0 729.2,486.3 732.2,486.5 735.2,486.6 738.2,486.7 741.1,486.7 744.1,486.7 747.1,486.7 747.4,486.7" fill="none" stroke="#111" stroke-width="2.6"/>
<g fill="none" stroke="#8c8c8c" stroke-width="1.2" stroke-opacity="0.75">
<path d="M525.4,1052.4 528.4,1050.7 531.3,1049.0 534.3,1047.3 537.3,1045.7 540.3,1044.1 543.2,1042.5 546.2,1040.9 549.2,1039.4 552.2,1037.9 555.2,1036.3 558.1,1034.8 561.1,1033.2 564.1,1031.5 567.1,1029.9 570.1,1028.4 573.0,1026.8 576.0,1025.2 579.0,1023.6 582.0,1022.0 585.0,1020.3 587.9,1018.6 590.9,1016.8 593.9,1014.9 596.9,1013.0 599.9,1010.9 602.8,1008.7 605.8,1006.3 608.8,1003.7 611.8,1001.0 614.7,998.1 617.7,995.1 620.7,992.1 623.7,989.1 626.7,986.1 629.6,983.1 632.6,980.2 635.6,977.3 638.6,974.4 641.6,971.3 644.5,968.3 647.5,965.2 650.5,962.1 653.5,959.1 656.5,956.1 659.4,953.1 662.4,950.3 665.4,947.6 668.4,945.0 671.3,942.6 674.3,940.3 677.3,938.2 680.3,936.1 683.3,934.1 686.2,932.1 689.2,930.2 692.2,928.4 695.2,926.6 698.2,924.8 701.1,923.1 704.1,921.4 707.1,919.8 710.1,918.2 713.1,916.6 716.0,915.0 719.0,913.5 722.0,912.0 725.0,910.4 727.9,908.9 730.9,907.4 733.9,906.0 736.9,904.6 739.9,903.2 742.8,901.9 745.8,900.6 748.8,899.4 751.8,898.1 754.8,896.8 757.7,895.4 760.7,894.1 763.7,892.6 766.7,891.2 769.7,889.9 772.6,888.6 775.6,887.2 778.6,885.7 781.6,883.9 784.5,882.0 787.5,879.5 790.5,876.0 793.5,872.0 796.5,867.7 799.4,863.8 802.4,860.2 805.4,856.7 808.4,853.2 811.4,849.5 814.3,845.6 817.3,841.0 820.3,836.1 823.3,831.3 826.3,827.2 829.2,823.4 832.2,819.8 835.2,816.7 838.2,814.3 841.2,812.9 844.1,811.7 847.1,810.6 850.1,809.7 853.1,808.9 856.0,808.3 859.0,808.0 862.0,807.9 865.0,808.1 868.0,808.6 870.9,809.3 873.9,810.1 876.9,811.1 879.9,812.3 882.9,814.5 885.8,817.6 888.8,821.5 891.8,826.0 894.8,831.0 897.8,837.8 900.7,846.6 903.7,856.0 906.7,865.9 909.7,876.8 912.6,889.2 915.6,902.9 918.6,917.3 921.6,931.1 924.6,944.9 927.5,958.8 930.5,971.8 933.5,983.1 936.5,992.9 939.5,1002.2 942.4,1010.5 945.4,1017.7 948.4,1023.5 951.4,1028.3 954.4,1032.6 957.3,1036.4 960.3,1039.7 963.3,1042.5 966.3,1044.7 969.2,1046.6 972.2,1048.3 975.2,1049.8 978.2,1051.1 981.2,1052.0 984.1,1052.4"/>
<path d="M465.8,1052.4 468.8,1051.7 471.8,1051.1 474.7,1050.4 477.7,1049.7 480.7,1049.0 483.7,1048.3 486.6,1047.6 489.6,1046.9 492.6,1046.1 495.6,1045.4 498.6,1044.7 501.5,1043.9 504.5,1043.2 507.5,1042.4 510.5,1041.6 513.5,1040.9 516.4,1040.1 519.4,1039.3 522.4,1038.5 525.4,1037.7 528.4,1037.0 531.3,1036.2 534.3,1035.4 537.3,1034.5 540.3,1033.7 543.2,1032.9 546.2,1032.0 549.2,1031.1 552.2,1030.2 555.2,1029.3 558.1,1028.4 561.1,1027.4 564.1,1026.4 567.1,1025.3 570.1,1024.2 573.0,1023.1 576.0,1021.9 579.0,1020.7 582.0,1019.5 585.0,1018.3 587.9,1017.0 590.9,1015.8 593.9,1014.5 596.9,1013.2 599.9,1011.9 602.8,1010.7 605.8,1009.4 608.8,1008.1 611.8,1006.9 614.7,1005.6 617.7,1004.3 620.7,1003.0 623.7,1001.7 626.7,1000.4 629.6,999.1 632.6,997.8 635.6,996.5 638.6,995.1 641.6,993.8 644.5,992.4 647.5,991.1 650.5,989.7 653.5,988.3 656.5,987.0 659.4,985.6 662.4,984.2 665.4,982.7 668.4,981.3 671.3,979.9 674.3,978.4 677.3,977.0 680.3,975.5 683.3,974.1 686.2,972.6 689.2,971.1 692.2,969.7 695.2,968.2 698.2,966.8 701.1,965.3 704.1,963.9 707.1,962.4 710.1,961.0 713.1,959.5 716.0,958.1 719.0,956.7 722.0,955.3 725.0,953.8 727.9,952.4 730.9,951.0 733.9,949.5 736.9,948.1 739.9,946.7 742.8,945.2 745.8,943.7 748.8,942.2 751.8,940.8 754.8,939.3 757.7,937.8 760.7,936.3 763.7,934.8 766.7,933.3 769.7,931.7 772.6,930.2 775.6,928.7 778.6,927.1 781.6,925.6 784.5,924.0 787.5,922.4 790.5,920.8 793.5,919.1 796.5,917.4 799.4,915.7 802.4,914.0 805.4,912.2 808.4,910.3 811.4,908.4 814.3,906.5 817.3,904.6 820.3,902.6 823.3,900.6 826.3,898.6 829.2,896.6 832.2,894.6 835.2,892.7 838.2,890.7 841.2,888.8 844.1,886.8 847.1,884.9 850.1,882.9 853.1,880.9 856.0,878.9 859.0,877.0 862.0,875.0 865.0,873.1 868.0,871.3 870.9,869.5 873.9,867.8 876.9,866.1 879.9,864.4 882.9,862.8 885.8,861.3 888.8,859.9 891.8,858.5 894.8,857.1 897.8,855.7 900.7,854.4 903.7,853.3 906.7,852.6 909.7,852.2 912.6,852.5 915.6,853.5 918.6,855.1 921.6,857.1 924.6,859.6 927.5,863.7 930.5,868.8 933.5,874.6 936.5,881.2 939.5,889.2 942.4,898.4 945.4,909.7 948.4,923.0 951.4,936.9 954.4,951.7 957.3,967.3 960.3,981.8 963.3,994.1 966.3,1005.5 969.2,1016.1 972.2,1025.4 975.2,1033.2 978.2,1040.1 981.2,1046.1 984.1,1050.1 987.1,1051.7 990.1,1052.4"/>
<path d="M501.5,1052.4 504.5,1051.9 507.5,1051.5 510.5,1050.9 513.5,1050.4 516.4,1049.8 519.4,1049.1 522.4,1048.4 525.4,1047.7 528.4,1047.0 531.3,1046.3 534.3,1045.5 537.3,1044.7 540.3,1043.9 543.2,1043.0 546.2,1042.1 549.2,1041.1 552.2,1040.1 555.2,1039.0 558.1,1038.0 561.1,1036.8 564.1,1035.7 567.1,1034.4 570.1,1033.2 573.0,1031.9 576.0,1030.6 579.0,1029.3 582.0,1027.9 585.0,1026.4 587.9,1024.9 590.9,1023.3 593.9,1021.6 596.9,1019.9 599.9,1018.1 602.8,1016.3 605.8,1014.4 608.8,1012.5 611.8,1010.6 614.7,1008.6 617.7,1006.6 620.7,1004.6 623.7,1002.5 626.7,1000.4 629.6,998.4 632.6,996.3 635.6,994.2 638.6,992.2 641.6,990.1 644.5,988.1 647.5,986.0 650.5,983.9 653.5,981.7 656.5,979.5 659.4,977.3 662.4,975.1 665.4,972.8 668.4,970.6 671.3,968.3 674.3,966.0 677.3,963.7 680.3,961.4 683.3,959.1 686.2,956.8 689.2,954.6 692.2,952.3 695.2,950.1 698.2,947.8 701.1,945.6 704.1,943.5 707.1,941.3 710.1,939.1 713.1,936.9 716.0,934.8 719.0,932.6 722.0,930.5 725.0,928.3 727.9,926.2 730.9,924.0 733.9,921.9 736.9,919.8 739.9,917.7 742.8,915.5 745.8,913.5 748.8,911.4 751.8,909.4 754.8,907.4 757.7,905.3 760.7,903.3 763.7,901.2 766.7,899.1 769.7,897.0 772.6,894.8 775.6,892.6 778.6,890.4 781.6,888.1 784.5,885.7 787.5,883.4 790.5,880.9 793.5,878.5 796.5,876.0 799.4,873.4 802.4,870.6 805.4,867.6 808.4,864.5 811.4,861.4 814.3,858.5 817.3,855.9 820.3,853.7 823.3,851.8 826.3,850.0 829.2,848.3 832.2,846.8 835.2,845.5 838.2,844.5 841.2,843.6 844.1,842.8 847.1,842.0 850.1,841.4 853.1,840.9 856.0,840.7 859.0,840.7 862.0,841.0 865.0,841.5 868.0,842.2 870.9,843.1 873.9,844.1 876.9,845.3 879.9,847.1 882.9,849.6 885.8,852.5 888.8,855.9 891.8,859.5 894.8,864.2 897.8,870.1 900.7,877.8 903.7,887.9 906.7,899.2 909.7,910.9 912.6,923.9 915.6,937.5 918.6,950.4 921.6,962.5 924.6,974.3 927.5,985.1 930.5,994.4 933.5,1003.0 936.5,1011.0 939.5,1017.9 942.4,1023.5 945.4,1028.2 948.4,1032.5 951.4,1036.4 954.4,1039.7 957.3,1042.5 960.3,1044.7 963.3,1046.6 966.3,1048.3 969.2,1049.8 972.2,1051.1 975.2,1052.0 978.2,1052.4"/>
<path d="M465.8,1052.4 468.8,1051.9 471.8,1051.3 474.7,1050.7 477.7,1050.2 480.7,1049.6 483.7,1049.0 486.6,1048.4 489.6,1047.8 492.6,1047.2 495.6,1046.6 498.6,1046.0 501.5,1045.3 504.5,1044.7 507.5,1044.1 510.5,1043.4 513.5,1042.8 516.4,1042.1 519.4,1041.5 522.4,1040.8 525.4,1040.1 528.4,1039.5 531.3,1038.8 534.3,1038.1 537.3,1037.4 540.3,1036.7 543.2,1036.0 546.2,1035.2 549.2,1034.5 552.2,1033.7 555.2,1032.9 558.1,1032.1 561.1,1031.2 564.1,1030.3 567.1,1029.4 570.1,1028.5 573.0,1027.5 576.0,1026.5 579.0,1025.5 582.0,1024.4 585.0,1023.3 587.9,1022.2 590.9,1021.1 593.9,1019.9 596.9,1018.7 599.9,1017.6 602.8,1016.3 605.8,1015.1 608.8,1013.9 611.8,1012.6 614.7,1011.4 617.7,1010.1 620.7,1008.7 623.7,1007.3 626.7,1005.9 629.6,1004.5 632.6,1003.1 635.6,1001.6 638.6,1000.1 641.6,998.6 644.5,997.1 647.5,995.5 650.5,994.0 653.5,992.4 656.5,990.8 659.4,989.2 662.4,987.5 665.4,985.8 668.4,984.1 671.3,982.3 674.3,980.5 677.3,978.7 680.3,976.9 683.3,975.0 686.2,973.2 689.2,971.3 692.2,969.4 695.2,967.5 698.2,965.7 701.1,963.8 704.1,961.9 707.1,960.1 710.1,958.2 713.1,956.4 716.0,954.6 719.0,952.8 722.0,951.0 725.0,949.2 727.9,947.3 730.9,945.5 733.9,943.6 736.9,941.6 739.9,939.7 742.8,937.6 745.8,935.5 748.8,933.4 751.8,931.1 754.8,928.8 757.7,926.3 760.7,923.8 763.7,921.1 766.7,918.4 769.7,915.6 772.6,912.8 775.6,909.9 778.6,907.0 781.6,904.1 784.5,901.2 787.5,898.3 790.5,895.4 793.5,892.6 796.5,889.8 799.4,886.8 802.4,883.9 805.4,880.9 808.4,877.9 811.4,875.1 814.3,872.3 817.3,869.6 820.3,867.1 823.3,864.6 826.3,862.1 829.2,859.7 832.2,857.4 835.2,855.3 838.2,853.6 841.2,852.2 844.1,851.0 847.1,849.9 850.1,848.9 853.1,848.1 856.0,847.6 859.0,847.4 862.0,847.6 865.0,848.1 868.0,848.8 870.9,849.7 873.9,850.8 876.9,852.0 879.9,853.7 882.9,855.9 885.8,858.6 888.8,861.8 891.8,866.2 894.8,872.1 897.8,879.3 900.7,887.4 903.7,896.4 906.7,908.1 909.7,921.5 912.6,935.1 915.6,947.6 918.6,960.1 921.6,972.4 924.6,983.4 927.5,992.2 930.5,999.9 933.5,1006.8 936.5,1013.1 939.5,1018.6 942.4,1023.5 945.4,1028.0 948.4,1032.2 951.4,1036.1 954.4,1039.6 957.3,1042.5 960.3,1044.7 963.3,1046.6 966.3,1048.3 969.2,1049.8 972.2,1051.1 975.2,1052.0 978.2,1052.4"/>
<path d="M444.9,1052.4 447.9,1050.9 450.9,1049.2 453.9,1047.2 456.9,1045.1 459.8,1042.8 462.8,1039.9 465.8,1036.3 468.8,1032.5 471.8,1029.0 474.7,1026.4 477.7,1025.0 480.7,1024.0 483.7,1023.1 486.6,1022.3 489.6,1021.5 492.6,1020.9 495.6,1020.3 498.6,1019.8 501.5,1019.3 504.5,1018.8 507.5,1018.4 510.5,1018.0 513.5,1017.6 516.4,1017.2 519.4,1016.7 522.4,1016.3 525.4,1015.8 528.4,1015.4 531.3,1014.9 534.3,1014.5 537.3,1014.1 540.3,1013.8 543.2,1013.5 546.2,1013.3 549.2,1013.1 552.2,1013.0 555.2,1012.9 558.1,1013.0 561.1,1013.0 564.1,1013.0 567.1,1013.1 570.1,1013.2 573.0,1013.3 576.0,1013.4 579.0,1013.5 582.0,1013.5 585.0,1013.6 587.9,1013.7 590.9,1013.8 593.9,1013.8 596.9,1013.9 599.9,1013.9 602.8,1013.9 605.8,1013.9 608.8,1013.9 611.8,1013.8 614.7,1013.8 617.7,1013.7 620.7,1013.6 623.7,1013.5 626.7,1013.5 629.6,1013.4 632.6,1013.3 635.6,1013.2 638.6,1013.1 641.6,1013.0 644.5,1012.9 647.5,1012.8 650.5,1012.7 653.5,1012.6 656.5,1012.5 659.4,1012.4 662.4,1012.3 665.4,1012.2 668.4,1012.1 671.3,1012.0 674.3,1011.8 677.3,1011.7 680.3,1011.5 683.3,1011.3 686.2,1011.1 689.2,1010.9 692.2,1010.7 695.2,1010.5 698.2,1010.2 701.1,1009.9 704.1,1009.5 707.1,1008.8 710.1,1008.0 713.1,1007.0 716.0,1005.9 719.0,1004.7 722.0,1003.4 725.0,1002.0 727.9,1000.6 730.9,999.1 733.9,997.6 736.9,996.1 739.9,994.7 742.8,993.1 745.8,991.5 748.8,989.8 751.8,987.9 754.8,986.0 757.7,984.0 760.7,982.0 763.7,979.9 766.7,977.8 769.7,975.7 772.6,973.6 775.6,971.6 778.6,969.5 781.6,967.4 784.5,965.3 787.5,963.3 790.5,961.1 793.5,959.0 796.5,956.8 799.4,954.5 802.4,952.2 805.4,949.7 808.4,947.2 811.4,944.6 814.3,941.8 817.3,939.0 820.3,935.9 823.3,932.8 826.3,929.5 829.2,926.2 832.2,922.7 835.2,919.2 838.2,915.6 841.2,911.9 844.1,907.9 847.1,903.4 850.1,898.8 853.1,894.3 856.0,890.2 859.0,886.9 862.0,883.8 865.0,880.8 868.0,877.9 870.9,875.6 873.9,874.0 876.9,873.4 879.9,873.5 882.9,873.8 885.8,874.4 888.8,875.2 891.8,876.1 894.8,877.2 897.8,879.7 900.7,884.5 903.7,890.9 906.7,898.3 909.7,906.1 912.6,915.6 915.6,927.6 918.6,940.3 921.6,952.3 924.6,963.6 927.5,974.9 930.5,985.5 933.5,994.7 936.5,1002.6 939.5,1010.0 942.4,1016.6 945.4,1022.5 948.4,1027.4 951.4,1031.6 954.4,1035.6 957.3,1039.2 960.3,1042.3 963.3,1044.8 966.3,1046.6 969.2,1048.1 972.2,1049.4 975.2,1050.6 978.2,1051.6 981.2,1052.2 984.1,1052.4"/>
<path d="M477.7,1052.4 480.7,1051.7 483.7,1051.0 486.6,1050.3 489.6,1049.5 492.6,1048.8 495.6,1048.0 498.6,1047.2 501.5,1046.3 504.5,1045.5 507.5,1044.6 510.5,1043.7 513.5,1042.8 516.4,1041.8 519.4,1040.9 522.4,1039.9 525.4,1038.9 528.4,1037.9 531.3,1036.9 534.3,1035.8 537.3,1034.7 540.3,1033.6 543.2,1032.5 546.2,1031.3 549.2,1030.0 552.2,1028.7 555.2,1027.4 558.1,1026.0 561.1,1024.4 564.1,1022.8 567.1,1021.1 570.1,1019.3 573.0,1017.5 576.0,1015.6 579.0,1013.8 582.0,1011.9 585.0,1010.1 587.9,1008.1 590.9,1005.8 593.9,1003.5 596.9,1001.1 599.9,998.8 602.8,996.7 605.8,994.9 608.8,993.5 611.8,992.7 614.7,992.2 617.7,991.8 620.7,991.3 623.7,990.9 626.7,990.6 629.6,990.2 632.6,989.9 635.6,989.7 638.6,989.4 641.6,989.2 644.5,989.1 647.5,989.0 650.5,988.9 653.5,988.9 656.5,988.9 659.4,988.9 662.4,988.9 665.4,988.9 668.4,988.9 671.3,988.9 674.3,988.9 677.3,988.9 680.3,988.9 683.3,988.9 686.2,988.9 689.2,988.9 692.2,988.9 695.2,988.9 698.2,988.9 701.1,988.7 704.1,988.4 707.1,987.8 710.1,987.0 713.1,986.0 716.0,985.0 719.0,983.8 722.0,982.5 725.0,981.2 727.9,979.9 730.9,978.6 733.9,977.3 736.9,976.0 739.9,974.6 742.8,973.2 745.8,971.6 748.8,969.9 751.8,968.2 754.8,966.4 757.7,964.5 760.7,962.5 763.7,960.4 766.7,958.3 769.7,956.2 772.6,953.8 775.6,951.2 778.6,948.5 781.6,945.6 784.5,942.6 787.5,939.5 790.5,936.4 793.5,933.3 796.5,930.2 799.4,927.3 802.4,924.4 805.4,921.5 808.4,918.6 811.4,915.7 814.3,912.8 817.3,910.0 820.3,907.1 823.3,904.2 826.3,901.3 829.2,898.4 832.2,895.4 835.2,892.2 838.2,888.9 841.2,885.7 844.1,882.6 847.1,879.8 850.1,877.3 853.1,875.3 856.0,873.5 859.0,871.8 862.0,870.1 865.0,868.8 868.0,867.9 870.9,867.6 873.9,867.9 876.9,868.6 879.9,869.8 882.9,871.4 885.8,873.2 888.8,875.3 891.8,878.6 894.8,883.9 897.8,890.5 900.7,898.1 903.7,906.1 906.7,915.5 909.7,926.8 912.6,938.9 915.6,950.4 918.6,961.5 921.6,972.9 924.6,983.5 927.5,992.7 930.5,1000.7 933.5,1008.0 936.5,1014.7 939.5,1020.6 942.4,1025.5 945.4,1029.6 948.4,1033.5 951.4,1037.0 954.4,1040.0 957.3,1042.6 960.3,1044.7 963.3,1046.5 966.3,1048.2 969.2,1049.7 972.2,1050.9 975.2,1051.9 978.2,1052.4"/>
<path d="M513.5,1052.4 516.4,1052.1 519.4,1051.7 522.4,1051.3 525.4,1050.9 528.4,1050.4 531.3,1049.9 534.3,1049.4 537.3,1048.9 540.3,1048.4 543.2,1047.8 546.2,1047.2 549.2,1046.6 552.2,1046.0 555.2,1045.3 558.1,1044.6 561.1,1043.9 564.1,1043.1 567.1,1042.3 570.1,1041.5 573.0,1040.6 576.0,1039.7 579.0,1038.8 582.0,1037.9 585.0,1037.0 587.9,1036.0 590.9,1035.0 593.9,1034.0 596.9,1032.9 599.9,1031.8 602.8,1030.7 605.8,1029.5 608.8,1028.3 611.8,1027.1 614.7,1025.9 617.7,1024.7 620.7,1023.5 623.7,1022.3 626.7,1021.1 629.6,1019.9 632.6,1018.6 635.6,1017.4 638.6,1016.1 641.6,1014.9 644.5,1013.6 647.5,1012.3 650.5,1010.9 653.5,1009.6 656.5,1008.2 659.4,1006.8 662.4,1005.4 665.4,1004.0 668.4,1002.5 671.3,1001.0 674.3,999.5 677.3,997.9 680.3,996.3 683.3,994.7 686.2,993.0 689.2,991.4 692.2,989.7 695.2,988.1 698.2,986.4 701.1,984.7 704.1,983.1 707.1,981.5 710.1,979.9 713.1,978.2 716.0,976.6 719.0,975.1 722.0,973.4 725.0,971.8 727.9,970.2 730.9,968.6 733.9,966.9 736.9,965.2 739.9,963.5 742.8,961.7 745.8,959.9 748.8,958.1 751.8,956.2 754.8,954.2 757.7,952.1 760.7,950.0 763.7,947.8 766.7,945.6 769.7,943.3 772.6,941.0 775.6,938.7 778.6,936.3 781.6,934.0 784.5,931.6 787.5,929.2 790.5,926.8 793.5,924.3 796.5,921.7 799.4,919.1 802.4,916.4 805.4,913.8 808.4,911.3 811.4,908.8 814.3,906.4 817.3,904.2 820.3,902.0 823.3,899.8 826.3,897.6 829.2,895.5 832.2,893.4 835.2,891.4 838.2,889.5 841.2,887.8 844.1,886.3 847.1,884.9 850.1,883.6 853.1,882.3 856.0,881.1 859.0,880.1 862.0,879.4 865.0,879.2 868.0,879.4 870.9,880.2 873.9,881.4 876.9,883.0 879.9,884.8 882.9,886.9 885.8,889.7 888.8,894.0 891.8,899.3 894.8,905.3 897.8,911.9 900.7,919.8 903.7,929.5 906.7,940.1 909.7,950.4 912.6,960.7 915.6,971.5 918.6,981.8 921.6,990.8 924.6,998.6 927.5,1005.9 930.5,1012.5 933.5,1018.4 936.5,1023.5 939.5,1028.0 942.4,1032.3 945.4,1036.2 948.4,1039.6 951.4,1042.5 954.4,1044.7 957.3,1046.6 960.3,1048.3 963.3,1049.8 966.3,1051.1 969.2,1052.0 972.2,1052.4"/>
<path d="M453.9,1052.4 456.9,1051.0 459.8,1049.6 462.8,1048.2 465.8,1046.8 468.8,1045.5 471.8,1044.2 474.7,1042.9 477.7,1041.7 480.7,1040.5 483.7,1039.3 486.6,1038.1 489.6,1037.0 492.6,1035.9 495.6,1034.8 498.6,1033.8 501.5,1032.7 504.5,1031.7 507.5,1030.7 510.5,1029.7 513.5,1028.8 516.4,1027.9 519.4,1027.0 522.4,1026.2 525.4,1025.5 528.4,1024.7 531.3,1024.0 534.3,1023.3 537.3,1022.6 540.3,1021.9 543.2,1021.3 546.2,1020.7 549.2,1020.0 552.2,1019.4 555.2,1018.9 558.1,1018.3 561.1,1017.8 564.1,1017.3 567.1,1016.8 570.1,1016.3 573.0,1015.8 576.0,1015.4 579.0,1015.0 582.0,1014.6 585.0,1014.2 587.9,1013.8 590.9,1013.5 593.9,1013.1 596.9,1012.8 599.9,1012.5 602.8,1012.1 605.8,1011.8 608.8,1011.5 611.8,1011.1 614.7,1010.8 617.7,1010.4 620.7,1010.1 623.7,1009.7 626.7,1009.3 629.6,1008.9 632.6,1008.6 635.6,1008.2 638.6,1007.9 641.6,1007.5 644.5,1007.1 647.5,1006.7 650.5,1006.3 653.5,1005.8 656.5,1005.3 659.4,1004.8 662.4,1004.3 665.4,1003.7 668.4,1003.0 671.3,1002.2 674.3,1001.4 677.3,1000.5 680.3,999.5 683.3,998.6 686.2,997.5 689.2,996.5 692.2,995.4 695.2,994.2 698.2,993.1 701.1,992.0 704.1,990.8 707.1,989.6 710.1,988.4 713.1,987.1 716.0,985.7 719.0,984.3 722.0,982.9 725.0,981.4 727.9,979.9 730.9,978.3 733.9,976.7 736.9,975.1 739.9,973.5 742.8,971.8 745.8,970.0 748.8,968.2 751.8,966.3 754.8,964.4 757.7,962.5 760.7,960.5 763.7,958.5 766.7,956.4 769.7,954.4 772.6,952.4 775.6,950.4 778.6,948.4 781.6,946.3 784.5,944.3 787.5,942.2 790.5,940.1 793.5,938.0 796.5,935.9 799.4,933.8 802.4,931.7 805.4,929.6 808.4,927.5 811.4,925.4 814.3,923.2 817.3,920.9 820.3,918.6 823.3,916.3 826.3,914.0 829.2,911.8 832.2,909.7 835.2,907.6 838.2,905.8 841.2,904.2 844.1,902.6 847.1,901.0 850.1,899.3 853.1,897.8 856.0,896.5 859.0,895.5 862.0,894.8 865.0,894.6 868.0,894.8 870.9,895.3 873.9,896.2 876.9,897.4 879.9,898.8 882.9,900.3 885.8,902.8 888.8,906.7 891.8,911.7 894.8,917.4 897.8,923.4 900.7,930.6 903.7,939.3 906.7,948.8 909.7,958.1 912.6,967.4 915.6,977.1 918.6,986.4 921.6,994.7 924.6,1001.9 927.5,1008.8 930.5,1015.1 933.5,1020.7 936.5,1025.5 939.5,1029.6 942.4,1033.4 945.4,1036.9 948.4,1040.0 951.4,1042.6 954.4,1044.7 957.3,1046.5 960.3,1048.2 963.3,1049.7 966.3,1050.9 969.2,1051.9 972.2,1052.4"/>
<path d="M537.3,1052.4 540.3,1052.1 543.2,1051.7 546.2,1051.3 549.2,1050.9 552.2,1050.4 555.2,1049.9 558.1,1049.4 561.1,1048.9 564.1,1048.4 567.1,1047.8 570.1,1047.2 573.0,1046.6 576.0,1046.0 579.0,1045.3 582.0,1044.6 585.0,1043.8 587.9,1043.0 590.9,1042.2 593.9,1041.4 596.9,1040.5 599.9,1039.6 602.8,1038.8 605.8,1037.9 608.8,1037.0 611.8,1036.1 614.7,1035.2 617.7,1034.3 620.7,1033.4 623.7,1032.4 626.7,1031.5 629.6,1030.5 632.6,1029.5 635.6,1028.5 638.6,1027.5 641.6,1026.5 644.5,1025.5 647.5,1024.4 650.5,1023.4 653.5,1022.3 656.5,1021.3 659.4,1020.2 662.4,1019.1 665.4,1018.0 668.4,1016.8 671.3,1015.7 674.3,1014.5 677.3,1013.2 680.3,1012.0 683.3,1010.7 686.2,1009.3 689.2,1007.9 692.2,1006.4 695.2,1005.0 698.2,1003.4 701.1,1001.9 704.1,1000.3 707.1,998.8 710.1,997.2 713.1,995.6 716.0,994.0 719.0,992.4 722.0,990.8 725.0,989.2 727.9,987.6 730.9,986.0 733.9,984.4 736.9,982.8 739.9,981.1 742.8,979.5 745.8,977.8 748.8,976.1 751.8,974.5 754.8,972.8 757.7,971.1 760.7,969.4 763.7,967.7 766.7,966.0 769.7,964.2 772.6,962.4 775.6,960.6 778.6,958.8 781.6,957.0 784.5,955.2 787.5,953.4 790.5,951.6 793.5,949.9 796.5,948.2 799.4,946.5 802.4,944.9 805.4,943.3 808.4,941.6 811.4,940.0 814.3,938.5 817.3,936.9 820.3,935.4 823.3,933.9 826.3,932.5 829.2,931.1 832.2,929.8 835.2,928.4 838.2,927.1 841.2,925.8 844.1,924.6 847.1,923.4 850.1,922.4 853.1,921.5 856.0,920.6 859.0,919.8 862.0,919.0 865.0,918.3 868.0,917.8 870.9,917.7 873.9,917.9 876.9,918.7 879.9,920.0 882.9,921.5 885.8,923.4 888.8,925.4 891.8,928.1 894.8,932.2 897.8,937.1 900.7,942.6 903.7,948.5 906.7,955.1 909.7,963.0 912.6,971.3 915.6,979.3 918.6,986.8 921.6,994.4 924.6,1001.7 927.5,1008.1 930.5,1014.0 933.5,1019.6 936.5,1024.7 939.5,1029.3 942.4,1033.2 945.4,1036.5 948.4,1039.7 951.4,1042.6 954.4,1045.2 957.3,1047.2 960.3,1048.6 963.3,1049.5 966.3,1050.5 969.2,1051.2 972.2,1051.9 975.2,1052.3 978.2,1052.4"/>
<path d="M549.2,1052.4 552.2,1052.2 555.2,1052.0 558.1,1051.8 561.1,1051.5 564.1,1051.2 567.1,1050.9 570.1,1050.5 573.0,1050.2 576.0,1049.8 579.0,1049.4 582.0,1049.0 585.0,1048.6 587.9,1048.1 590.9,1047.5 593.9,1046.9 596.9,1046.3 599.9,1045.6 602.8,1044.9 605.8,1044.2 608.8,1043.5 611.8,1042.8 614.7,1042.1 617.7,1041.5 620.7,1040.9 623.7,1040.3 626.7,1039.8 629.6,1039.3 632.6,1038.8 635.6,1038.4 638.6,1037.9 641.6,1037.5 644.5,1037.0 647.5,1036.6 650.5,1036.1 653.5,1035.6 656.5,1035.0 659.4,1034.4 662.4,1033.7 665.4,1033.0 668.4,1032.1 671.3,1031.2 674.3,1030.0 677.3,1028.8 680.3,1027.5 683.3,1026.2 686.2,1024.8 689.2,1023.3 692.2,1021.9 695.2,1020.4 698.2,1019.0 701.1,1017.6 704.1,1016.1 707.1,1014.6 710.1,1013.1 713.1,1011.6 716.0,1010.0 719.0,1008.4 722.0,1006.8 725.0,1005.2 727.9,1003.6 730.9,1002.0 733.9,1000.4 736.9,998.8 739.9,997.3 742.8,995.7 745.8,994.1 748.8,992.4 751.8,990.8 754.8,989.2 757.7,987.6 760.7,986.0 763.7,984.4 766.7,982.8 769.7,981.2 772.6,979.6 775.6,978.0 778.6,976.4 781.6,974.8 784.5,973.2 787.5,971.6 790.5,970.1 793.5,968.5 796.5,966.8 799.4,965.2 802.4,963.6 805.4,961.9 808.4,960.2 811.4,958.4 814.3,956.6 817.3,954.8 820.3,952.9 823.3,951.1 826.3,949.4 829.2,947.7 832.2,946.1 835.2,944.6 838.2,943.2 841.2,941.7 844.1,940.2 847.1,938.9 850.1,937.6 853.1,936.5 856.0,935.6 859.0,935.0 862.0,934.5 865.0,934.0 868.0,933.6 870.9,933.3 873.9,933.1 876.9,933.1 879.9,933.5 882.9,934.8 885.8,936.7 888.8,939.1 891.8,941.8 894.8,944.6 897.8,948.1 900.7,952.7 903.7,958.0 906.7,963.8 909.7,969.6 912.6,975.9 915.6,982.8 918.6,989.8 921.6,996.6 924.6,1003.2 927.5,1010.0 930.5,1016.6 933.5,1022.5 936.5,1027.4 939.5,1031.6 942.4,1035.5 945.4,1039.1 948.4,1042.2 951.4,1044.8 954.4,1046.6 957.3,1048.1 960.3,1049.4 963.3,1050.6 966.3,1051.6 969.2,1052.2 972.2,1052.4"/>
<path d="M561.1,1052.4 564.1,1052.2 567.1,1051.9 570.1,1051.6 573.0,1051.3 576.0,1051.0 579.0,1050.7 582.0,1050.4 585.0,1050.0 587.9,1049.7 590.9,1049.3 593.9,1048.9 596.9,1048.6 599.9,1048.2 602.8,1047.7 605.8,1047.3 608.8,1046.9 611.8,1046.4 614.7,1045.9 617.7,1045.4 620.7,1044.9 623.7,1044.4 626.7,1043.9 629.6,1043.3 632.6,1042.8 635.6,1042.2 638.6,1041.7 641.6,1041.1 644.5,1040.5 647.5,1039.9 650.5,1039.3 653.5,1038.6 656.5,1038.0 659.4,1037.3 662.4,1036.6 665.4,1035.8 668.4,1035.1 671.3,1034.3 674.3,1033.4 677.3,1032.6 680.3,1031.6 683.3,1030.7 686.2,1029.7 689.2,1028.7 692.2,1027.7 695.2,1026.6 698.2,1025.6 701.1,1024.6 704.1,1023.5 707.1,1022.5 710.1,1021.4 713.1,1020.3 716.0,1019.3 719.0,1018.1 722.0,1017.0 725.0,1015.9 727.9,1014.8 730.9,1013.6 733.9,1012.4 736.9,1011.2 739.9,1010.1 742.8,1008.8 745.8,1007.6 748.8,1006.4 751.8,1005.1 754.8,1003.9 757.7,1002.6 760.7,1001.3 763.7,1000.0 766.7,998.7 769.7,997.3 772.6,996.0 775.6,994.7 778.6,993.3 781.6,991.9 784.5,990.5 787.5,989.1 790.5,987.6 793.5,986.2 796.5,984.7 799.4,983.3 802.4,981.8 805.4,980.3 808.4,978.8 811.4,977.3 814.3,975.8 817.3,974.2 820.3,972.6 823.3,971.0 826.3,969.3 829.2,967.7 832.2,966.2 835.2,964.7 838.2,963.2 841.2,961.9 844.1,960.6 847.1,959.2 850.1,957.7 853.1,956.3 856.0,955.1 859.0,954.1 862.0,953.5 865.0,953.3 868.0,953.3 870.9,953.4 873.9,953.5 876.9,953.7 879.9,953.9 882.9,954.2 885.8,955.0 888.8,956.5 891.8,958.7 894.8,961.2 897.8,963.9 900.7,967.2 903.7,971.5 906.7,976.3 909.7,981.2 912.6,986.2 915.6,991.6 918.6,997.0 921.6,1002.4 924.6,1007.6 927.5,1013.0 930.5,1018.2 933.5,1023.1 936.5,1027.4 939.5,1031.3 942.4,1035.2 945.4,1038.8 948.4,1042.1 951.4,1044.7 954.4,1046.6 957.3,1048.1 960.3,1049.4 963.3,1050.6 966.3,1051.6 969.2,1052.2 972.2,1052.4"/>
<path d="M465.8,1052.4 468.8,1051.9 471.8,1051.4 474.7,1050.9 477.7,1050.3 480.7,1049.8 483.7,1049.2 486.6,1048.6 489.6,1048.0 492.6,1047.4 495.6,1046.8 498.6,1046.1 501.5,1045.5 504.5,1044.8 507.5,1044.2 510.5,1043.5 513.5,1042.8 516.4,1042.1 519.4,1041.3 522.4,1040.6 525.4,1039.8 528.4,1039.0 531.3,1038.2 534.3,1037.4 537.3,1036.5 540.3,1035.7 543.2,1034.8 546.2,1033.9 549.2,1033.0 552.2,1032.1 555.2,1031.2 558.1,1030.2 561.1,1029.3 564.1,1028.3 567.1,1027.4 570.1,1026.4 573.0,1025.4 576.0,1024.4 579.0,1023.4 582.0,1022.4 585.0,1021.3 587.9,1020.2 590.9,1019.1 593.9,1018.0 596.9,1016.9 599.9,1015.7 602.8,1014.5 605.8,1013.2 608.8,1012.0 611.8,1010.7 614.7,1009.3 617.7,1007.9 620.7,1006.5 623.7,1005.0 626.7,1003.5 629.6,1001.9 632.6,1000.4 635.6,998.7 638.6,997.1 641.6,995.5 644.5,993.8 647.5,992.1 650.5,990.4 653.5,988.7 656.5,987.0 659.4,985.2 662.4,983.4 665.4,981.6 668.4,979.7 671.3,977.8 674.3,975.9 677.3,973.9 680.3,971.9 683.3,970.0 686.2,968.0 689.2,966.0 692.2,964.0 695.2,962.0 698.2,960.0 701.1,958.1 704.1,956.2 707.1,954.2 710.1,952.3 713.1,950.3 716.0,948.3 719.0,946.4 722.0,944.4 725.0,942.4 727.9,940.4 730.9,938.5 733.9,936.5 736.9,934.6 739.9,932.7 742.8,930.8 745.8,929.0 748.8,927.1 751.8,925.4 754.8,923.6 757.7,921.9 760.7,920.1 763.7,918.4 766.7,916.8 769.7,915.1 772.6,913.5 775.6,911.9 778.6,910.2 781.6,908.6 784.5,907.0 787.5,905.4 790.5,903.8 793.5,902.3 796.5,900.7 799.4,899.1 802.4,897.6 805.4,896.1 808.4,894.6 811.4,893.1 814.3,891.5 817.3,890.0 820.3,888.4 823.3,886.9 826.3,885.2 829.2,883.5 832.2,881.7 835.2,879.9 838.2,878.2 841.2,876.5 844.1,874.9 847.1,873.4 850.1,871.8 853.1,870.1 856.0,868.4 859.0,867.0 862.0,866.0 865.0,865.7 868.0,865.8 870.9,866.2 873.9,866.7 876.9,867.5 879.9,868.4 882.9,869.5 885.8,871.6 888.8,875.3 891.8,880.3 894.8,886.2 897.8,892.6 900.7,901.1 903.7,912.4 906.7,924.9 909.7,936.9 912.6,948.7 915.6,961.0 918.6,972.8 921.6,983.1 924.6,992.2 927.5,1000.9 930.5,1008.8 933.5,1015.8 936.5,1021.6 939.5,1026.6 942.4,1031.3 945.4,1035.6 948.4,1039.3 951.4,1042.4 954.4,1044.7 957.3,1046.6 960.3,1048.4 963.3,1050.0 966.3,1051.3 969.2,1052.1 972.2,1052.4"/>
<path d="M513.5,1052.4 516.4,1052.1 519.4,1051.7 522.4,1051.4 525.4,1051.0 528.4,1050.6 531.3,1050.1 534.3,1049.7 537.3,1049.2 540.3,1048.7 543.2,1048.1 546.2,1047.6 549.2,1047.1 552.2,1046.5 555.2,1045.9 558.1,1045.3 561.1,1044.7 564.1,1044.1 567.1,1043.4 570.1,1042.7 573.0,1042.0 576.0,1041.2 579.0,1040.4 582.0,1039.6 585.0,1038.8 587.9,1037.9 590.9,1037.0 593.9,1036.1 596.9,1035.2 599.9,1034.2 602.8,1033.2 605.8,1032.2 608.8,1031.2 611.8,1030.2 614.7,1029.1 617.7,1027.9 620.7,1026.7 623.7,1025.4 626.7,1024.1 629.6,1022.8 632.6,1021.4 635.6,1020.1 638.6,1018.7 641.6,1017.2 644.5,1015.8 647.5,1014.4 650.5,1012.9 653.5,1011.5 656.5,1010.1 659.4,1008.6 662.4,1007.1 665.4,1005.6 668.4,1004.1 671.3,1002.5 674.3,1001.0 677.3,999.4 680.3,997.8 683.3,996.2 686.2,994.6 689.2,993.0 692.2,991.4 695.2,989.8 698.2,988.2 701.1,986.6 704.1,985.0 707.1,983.5 710.1,981.9 713.1,980.3 716.0,978.8 719.0,977.2 722.0,975.7 725.0,974.1 727.9,972.6 730.9,971.0 733.9,969.4 736.9,967.9 739.9,966.3 742.8,964.7 745.8,963.2 748.8,961.6 751.8,960.0 754.8,958.4 757.7,956.8 760.7,955.1 763.7,953.5 766.7,951.8 769.7,950.2 772.6,948.6 775.6,946.9 778.6,945.3 781.6,943.8 784.5,942.2 787.5,940.8 790.5,939.3 793.5,937.9 796.5,936.5 799.4,935.1 802.4,933.8 805.4,932.4 808.4,931.1 811.4,929.8 814.3,928.5 817.3,927.3 820.3,926.0 823.3,924.8 826.3,923.6 829.2,922.4 832.2,921.2 835.2,920.0 838.2,918.8 841.2,917.7 844.1,916.4 847.1,915.2 850.1,914.0 853.1,912.8 856.0,911.6 859.0,910.4 862.0,909.2 865.0,908.0 868.0,906.8 870.9,905.6 873.9,904.4 876.9,903.3 879.9,902.1 882.9,900.9 885.8,899.6 888.8,898.4 891.8,897.0 894.8,895.3 897.8,893.6 900.7,892.1 903.7,891.1 906.7,890.7 909.7,891.3 912.6,893.0 915.6,895.5 918.6,898.7 921.6,902.3 924.6,908.0 927.5,916.7 930.5,926.8 933.5,936.9 936.5,947.0 939.5,957.9 942.4,968.9 945.4,979.3 948.4,989.2 951.4,998.9 954.4,1008.0 957.3,1015.8 960.3,1022.7 963.3,1029.0 966.3,1034.5 969.2,1038.9 972.2,1042.7 975.2,1046.1 978.2,1048.8 981.2,1050.5 984.1,1051.4 987.1,1052.1 990.1,1052.4"/>
<path d="M453.9,1052.4 456.9,1051.0 459.8,1049.6 462.8,1048.2 465.8,1046.8 468.8,1045.5 471.8,1044.2 474.7,1042.9 477.7,1041.7 480.7,1040.5 483.7,1039.4 486.6,1038.2 489.6,1037.1 492.6,1036.1 495.6,1035.1 498.6,1034.1 501.5,1033.1 504.5,1032.2 507.5,1031.3 510.5,1030.4 513.5,1029.6 516.4,1028.7 519.4,1027.9 522.4,1027.1 525.4,1026.4 528.4,1025.6 531.3,1024.9 534.3,1024.2 537.3,1023.5 540.3,1022.9 543.2,1022.2 546.2,1021.6 549.2,1021.0 552.2,1020.3 555.2,1019.7 558.1,1019.2 561.1,1018.6 564.1,1018.1 567.1,1017.6 570.1,1017.1 573.0,1016.6 576.0,1016.2 579.0,1015.8 582.0,1015.5 585.0,1015.2 587.9,1014.9 590.9,1014.6 593.9,1014.3 596.9,1014.1 599.9,1013.8 602.8,1013.6 605.8,1013.4 608.8,1013.1 611.8,1012.9 614.7,1012.6 617.7,1012.3 620.7,1012.0 623.7,1011.6 626.7,1011.3 629.6,1010.9 632.6,1010.6 635.6,1010.2 638.6,1009.8 641.6,1009.4 644.5,1009.0 647.5,1008.6 650.5,1008.1 653.5,1007.7 656.5,1007.2 659.4,1006.7 662.4,1006.2 665.4,1005.7 668.4,1005.1 671.3,1004.5 674.3,1003.8 677.3,1003.2 680.3,1002.5 683.3,1001.8 686.2,1001.1 689.2,1000.3 692.2,999.6 695.2,998.8 698.2,998.1 701.1,997.3 704.1,996.6 707.1,995.8 710.1,995.1 713.1,994.3 716.0,993.5 719.0,992.8 722.0,992.0 725.0,991.2 727.9,990.3 730.9,989.5 733.9,988.7 736.9,987.8 739.9,987.0 742.8,986.1 745.8,985.2 748.8,984.3 751.8,983.4 754.8,982.5 757.7,981.6 760.7,980.6 763.7,979.7 766.7,978.7 769.7,977.6 772.6,976.5 775.6,975.4 778.6,974.2 781.6,973.0 784.5,971.7 787.5,970.3 790.5,968.9 793.5,967.5 796.5,966.0 799.4,964.5 802.4,962.9 805.4,961.3 808.4,959.7 811.4,958.1 814.3,956.3 817.3,954.4 820.3,952.4 823.3,950.3 826.3,948.2 829.2,946.1 832.2,944.1 835.2,942.2 838.2,940.4 841.2,938.8 844.1,937.3 847.1,935.7 850.1,934.1 853.1,932.5 856.0,931.2 859.0,930.2 862.0,929.5 865.0,929.2 868.0,929.3 870.9,929.4 873.9,929.7 876.9,930.1 879.9,930.6 882.9,931.1 885.8,932.3 888.8,934.5 891.8,937.4 894.8,940.8 897.8,944.6 900.7,949.4 903.7,955.8 906.7,962.8 909.7,969.6 912.6,976.3 915.6,983.2 918.6,990.1 921.6,996.6 924.6,1002.9 927.5,1009.1 930.5,1015.1 933.5,1020.6 936.5,1025.5 939.5,1029.9 942.4,1034.2 945.4,1038.2 948.4,1041.8 951.4,1044.6 954.4,1046.6 957.3,1048.1 960.3,1049.5 963.3,1050.6 966.3,1051.6 969.2,1052.2 972.2,1052.4"/>
<path d="M525.4,1052.4 528.4,1052.1 531.3,1051.7 534.3,1051.3 537.3,1050.9 540.3,1050.4 543.2,1049.9 546.2,1049.4 549.2,1048.9 552.2,1048.4 555.2,1047.8 558.1,1047.2 561.1,1046.6 564.1,1046.0 567.1,1045.3 570.1,1044.6 573.0,1043.9 576.0,1043.1 579.0,1042.3 582.0,1041.5 585.0,1040.6 587.9,1039.7 590.9,1038.8 593.9,1037.9 596.9,1037.0 599.9,1036.0 602.8,1035.1 605.8,1034.1 608.8,1033.0 611.8,1031.9 614.7,1030.8 617.7,1029.7 620.7,1028.5 623.7,1027.3 626.7,1026.1 629.6,1024.8 632.6,1023.5 635.6,1022.2 638.6,1020.7 641.6,1019.2 644.5,1017.7 647.5,1016.1 650.5,1014.5 653.5,1012.8 656.5,1011.1 659.4,1009.4 662.4,1007.7 665.4,1006.0 668.4,1004.3 671.3,1002.6 674.3,1000.9 677.3,999.2 680.3,997.4 683.3,995.7 686.2,994.0 689.2,992.2 692.2,990.4 695.2,988.6 698.2,986.8 701.1,985.0 704.1,983.1 707.1,981.2 710.1,979.3 713.1,977.4 716.0,975.4 719.0,973.4 722.0,971.3 725.0,969.2 727.9,967.1 730.9,964.9 733.9,962.7 736.9,960.4 739.9,958.2 742.8,955.9 745.8,953.6 748.8,951.4 751.8,949.1 754.8,946.8 757.7,944.6 760.7,942.4 763.7,940.2 766.7,938.0 769.7,935.8 772.6,933.6 775.6,931.3 778.6,929.1 781.6,926.9 784.5,924.6 787.5,922.3 790.5,920.0 793.5,917.7 796.5,915.2 799.4,912.8 802.4,910.2 805.4,907.6 808.4,905.1 811.4,902.5 814.3,899.9 817.3,897.4 820.3,895.0 823.3,892.6 826.3,890.3 829.2,887.9 832.2,885.5 835.2,883.2 838.2,881.0 841.2,878.9 844.1,877.0 847.1,875.3 850.1,873.6 853.1,871.9 856.0,870.3 859.0,868.9 862.0,867.9 865.0,867.6 868.0,867.9 870.9,868.7 873.9,869.9 876.9,871.4 879.9,873.3 882.9,875.3 885.8,878.3 888.8,882.8 891.8,888.6 894.8,895.2 897.8,902.3 900.7,910.9 903.7,921.7 906.7,933.4 909.7,944.6 912.6,955.5 915.6,966.7 918.6,977.4 921.6,987.0 924.6,995.6 927.5,1003.8 930.5,1011.4 933.5,1018.0 936.5,1023.5 939.5,1028.2 942.4,1032.5 945.4,1036.3 948.4,1039.7 951.4,1042.5 954.4,1044.7 957.3,1046.6 960.3,1048.3 963.3,1049.8 966.3,1051.1 969.2,1052.0 972.2,1052.4"/>
<path d="M543.2,1052.4 546.2,1052.1 549.2,1051.7 552.2,1051.3 555.2,1050.9 558.1,1050.4 561.1,1049.9 564.1,1049.4 567.1,1048.9 570.1,1048.4 573.0,1047.8 576.0,1047.2 579.0,1046.6 582.0,1046.0 585.0,1045.3 587.9,1044.6 590.9,1043.9 593.9,1043.1 596.9,1042.4 599.9,1041.5 602.8,1040.7 605.8,1039.8 608.8,1038.9 611.8,1038.0 614.7,1037.0 617.7,1036.1 620.7,1035.1 623.7,1034.1 626.7,1033.0 629.6,1031.9 632.6,1030.7 635.6,1029.5 638.6,1028.3 641.6,1027.1 644.5,1025.8 647.5,1024.5 650.5,1023.2 653.5,1021.8 656.5,1020.5 659.4,1019.1 662.4,1017.8 665.4,1016.4 668.4,1015.0 671.3,1013.6 674.3,1012.1 677.3,1010.6 680.3,1009.2 683.3,1007.6 686.2,1006.1 689.2,1004.6 692.2,1003.0 695.2,1001.4 698.2,999.8 701.1,998.2 704.1,996.6 707.1,994.9 710.1,993.3 713.1,991.6 716.0,989.8 719.0,988.1 722.0,986.3 725.0,984.6 727.9,982.8 730.9,981.0 733.9,979.1 736.9,977.2 739.9,975.4 742.8,973.5 745.8,971.6 748.8,969.6 751.8,967.7 754.8,965.7 757.7,963.7 760.7,961.6 763.7,959.6 766.7,957.5 769.7,955.4 772.6,953.2 775.6,951.0 778.6,948.8 781.6,946.5 784.5,944.2 787.5,941.8 790.5,939.4 793.5,936.9 796.5,934.4 799.4,931.8 802.4,929.3 805.4,926.7 808.4,924.1 811.4,921.5 814.3,918.8 817.3,916.0 820.3,913.2 823.3,910.3 826.3,907.5 829.2,904.9 832.2,902.5 835.2,900.3 838.2,898.4 841.2,896.5 844.1,894.8 847.1,893.2 850.1,891.9 853.1,890.7 856.0,889.6 859.0,888.6 862.0,887.7 865.0,887.1 868.0,886.9 870.9,887.2 873.9,888.0 876.9,889.3 879.9,890.8 882.9,892.6 885.8,895.2 888.8,899.1 891.8,903.9 894.8,909.6 897.8,915.7 900.7,923.5 903.7,933.3 906.7,944.0 909.7,954.2 912.6,964.2 915.6,974.4 918.6,984.1 921.6,992.7 924.6,1000.4 927.5,1007.7 930.5,1014.4 933.5,1020.3 936.5,1025.5 939.5,1030.0 942.4,1034.4 945.4,1038.4 948.4,1041.8 951.4,1044.6 954.4,1046.6 957.3,1048.1 960.3,1049.5 963.3,1050.6 966.3,1051.6 969.2,1052.2 972.2,1052.4"/>
<path d="M573.0,1052.4 576.0,1052.1 579.0,1051.7 582.0,1051.3 585.0,1050.9 587.9,1050.4 590.9,1049.9 593.9,1049.4 596.9,1048.9 599.9,1048.4 602.8,1047.8 605.8,1047.2 608.8,1046.6 611.8,1046.0 614.7,1045.3 617.7,1044.6 620.7,1043.9 623.7,1043.1 626.7,1042.3 629.6,1041.5 632.6,1040.6 635.6,1039.7 638.6,1038.8 641.6,1037.9 644.5,1037.0 647.5,1036.0 650.5,1035.1 653.5,1034.0 656.5,1033.0 659.4,1031.9 662.4,1030.8 665.4,1029.6 668.4,1028.4 671.3,1027.2 674.3,1026.0 677.3,1024.8 680.3,1023.5 683.3,1022.2 686.2,1020.9 689.2,1019.5 692.2,1018.1 695.2,1016.7 698.2,1015.2 701.1,1013.8 704.1,1012.3 707.1,1010.8 710.1,1009.2 713.1,1007.7 716.0,1006.2 719.0,1004.7 722.0,1003.1 725.0,1001.6 727.9,1000.1 730.9,998.5 733.9,996.9 736.9,995.3 739.9,993.7 742.8,992.1 745.8,990.4 748.8,988.7 751.8,987.0 754.8,985.2 757.7,983.4 760.7,981.6 763.7,979.7 766.7,977.8 769.7,975.9 772.6,974.0 775.6,972.0 778.6,970.0 781.6,968.0 784.5,965.9 787.5,963.9 790.5,961.7 793.5,959.5 796.5,957.3 799.4,955.0 802.4,952.6 805.4,950.3 808.4,947.9 811.4,945.5 814.3,943.1 817.3,940.8 820.3,938.3 823.3,935.8 826.3,933.2 829.2,930.7 832.2,928.2 835.2,925.8 838.2,923.5 841.2,921.5 844.1,919.6 847.1,917.7 850.1,915.9 853.1,914.3 856.0,913.0 859.0,911.9 862.0,911.0 865.0,910.1 868.0,909.3 870.9,908.6 873.9,908.2 876.9,908.0 879.9,908.4 882.9,909.4 885.8,910.9 888.8,912.8 891.8,915.1 894.8,917.7 897.8,921.5 900.7,927.4 903.7,934.6 906.7,942.5 909.7,950.4 912.6,958.9 915.6,968.4 918.6,978.1 921.6,987.0 924.6,995.2 927.5,1003.4 930.5,1011.1 933.5,1017.9 936.5,1023.5 939.5,1028.2 942.4,1032.5 945.4,1036.3 948.4,1039.7 951.4,1042.5 954.4,1044.7 957.3,1046.6 960.3,1048.3 963.3,1049.8 966.3,1051.1 969.2,1052.0 972.2,1052.4"/>
</g>
<path d="M442.0,1052.4 444.9,1052.2 447.9,1051.9 450.9,1051.7 453.9,1051.4 456.9,1051.2 459.8,1050.9 462.8,1050.6 465.8,1050.4 468.8,1050.1 471.8,1049.8 474.7,1049.5 477.7,1049.2 480.7,1048.9 483.7,1048.6 486.6,1048.3 489.6,1048.0 492.6,1047.7 495.6,1047.3 498.6,1047.0 501.5,1046.6 504.5,1046.3 507.5,1045.9 510.5,1045.5 513.5,1045.1 516.4,1044.7 519.4,1044.2 522.4,1043.8 525.4,1043.3 528.4,1042.8 531.3,1042.3 534.3,1041.8 537.3,1041.3 540.3,1040.7 543.2,1040.2 546.2,1039.6 549.2,1039.0 552.2,1038.4 555.2,1037.8 558.1,1037.1 561.1,1036.5 564.1,1035.8 567.1,1035.1 570.1,1034.3 573.0,1033.5 576.0,1032.7 579.0,1031.9 582.0,1031.1 585.0,1030.2 587.9,1029.4 590.9,1028.5 593.9,1027.6 596.9,1026.7 599.9,1025.8 602.8,1024.9 605.8,1024.0 608.8,1023.0 611.8,1022.0 614.7,1021.0 617.7,1020.0 620.7,1019.0 623.7,1018.0 626.7,1016.9 629.6,1015.9 632.6,1014.9 635.6,1013.8 638.6,1012.8 641.6,1011.7 644.5,1010.7 647.5,1009.6 650.5,1008.5 653.5,1007.5 656.5,1006.4 659.4,1005.3 662.4,1004.2 665.4,1003.1 668.4,1002.0 671.3,1000.9 674.3,999.8 677.3,998.7 680.3,997.6 683.3,996.5 686.2,995.4 689.2,994.2 692.2,993.0 695.2,991.8 698.2,990.6 701.1,989.3 704.1,988.0 707.1,986.7 710.1,985.3 713.1,983.9 716.0,982.4 719.0,981.0 722.0,979.4 725.0,977.9 727.9,976.4 730.9,974.8 733.9,973.1 736.9,971.5 739.9,969.8 742.8,968.0 745.8,966.3 748.8,964.5 751.8,962.7 754.8,960.9 757.7,959.0 760.7,957.2 763.7,955.4 766.7,953.5 769.7,951.6 772.6,949.7 775.6,947.8 778.6,945.8 781.6,943.8 784.5,941.7 787.5,939.6 790.5,937.4 793.5,935.2 796.5,933.0 799.4,930.7 802.4,928.4 805.4,926.0 808.4,923.7 811.4,921.4 814.3,919.1 817.3,916.8 820.3,914.4 823.3,912.0 826.3,909.5 829.2,907.1 832.2,904.8 835.2,902.5 838.2,900.4 841.2,898.4 844.1,896.4 847.1,894.5 850.1,892.9 853.1,891.7 856.0,890.8 859.0,890.0 862.0,889.4 865.0,889.2 868.0,889.4 870.9,889.9 873.9,890.7 876.9,891.7 879.9,893.2 882.9,895.6 885.8,898.5 888.8,902.2 891.8,906.6 894.8,911.5 897.8,916.8 900.7,923.2 903.7,930.7 906.7,938.7 909.7,946.9 912.6,954.7 915.6,962.1 918.6,969.5 921.6,976.9 924.6,984.0 927.5,990.7 930.5,996.6 933.5,1001.9 936.5,1007.0 939.5,1011.8 942.4,1016.4 945.4,1020.6 948.4,1024.6 951.4,1028.2 954.4,1031.6 957.3,1034.7 960.3,1037.6 963.3,1040.3 966.3,1042.7 969.2,1044.7 972.2,1046.5 975.2,1048.1 978.2,1049.4 981.2,1050.5 984.1,1051.3 987.1,1052.0 990.1,1052.4" fill="none" stroke="#111" stroke-width="2.6"/>
<line x1="390.5" y1="9.2" x2="390.5" y2="487.7" stroke="#333" stroke-width="2.2"/>
<line x1="389.5" y1="486.7" x2="986.3" y2="486.7" stroke="#333" stroke-width="2.2"/>
<line x1="390.5" y1="467.6" x2="395.0" y2="467.6" stroke="#333" stroke-width="2"/>
<line x1="390.5" y1="448.5" x2="398.5" y2="448.5" stroke="#333" stroke-width="2"/>
<line x1="390.5" y1="429.4" x2="395.0" y2="429.4" stroke="#333" stroke-width="2"/>
<line x1="390.5" y1="410.3" x2="398.5" y2="410.3" stroke="#333" stroke-width="2"/>
<line x1="390.5" y1="391.2" x2="395.0" y2="391.2" stroke="#333" stroke-width="2"/>
<line x1="390.5" y1="372.1" x2="398.5" y2="372.1" stroke="#333" stroke-width="2"/>
<line x1="390.5" y1="353.0" x2="395.0" y2="353.0" stroke="#333" stroke-width="2"/>
<line x1="390.5" y1="333.9" x2="398.5" y2="333.9" stroke="#333" stroke-width="2"/>
<line x1="390.5" y1="314.8" x2="395.0" y2="314.8" stroke="#333" stroke-width="2"/>
<line x1="390.5" y1="295.7" x2="398.5" y2="295.7" stroke="#333" stroke-width="2"/>
<line x1="390.5" y1="276.6" x2="395.0" y2="276.6" stroke="#333" stroke-width="2"/>
<line x1="390.5" y1="257.5" x2="398.5" y2="257.5" stroke="#333" stroke-width="2"/>
<line x1="390.5" y1="238.4" x2="395.0" y2="238.4" stroke="#333" stroke-width="2"/>
<line x1="390.5" y1="219.3" x2="398.5" y2="219.3" stroke="#333" stroke-width="2"/>
<line x1="390.5" y1="200.2" x2="395.0" y2="200.2" stroke="#333" stroke-width="2"/>
<line x1="390.5" y1="181.1" x2="398.5" y2="181.1" stroke="#333" stroke-width="2"/>
<line x1="390.5" y1="162.0" x2="395.0" y2="162.0" stroke="#333" stroke-width="2"/>
<line x1="390.5" y1="142.9" x2="398.5" y2="142.9" stroke="#333" stroke-width="2"/>
<line x1="390.5" y1="123.8" x2="395.0" y2="123.8" stroke="#333" stroke-width="2"/>
<line x1="390.5" y1="104.7" x2="398.5" y2="104.7" stroke="#333" stroke-width="2"/>
<line x1="390.5" y1="85.6" x2="395.0" y2="85.6" stroke="#333" stroke-width="2"/>
<line x1="390.5" y1="66.5" x2="398.5" y2="66.5" stroke="#333" stroke-width="2"/>
<line x1="390.5" y1="47.4" x2="395.0" y2="47.4" stroke="#333" stroke-width="2"/>
<line x1="390.5" y1="28.3" x2="398.5" y2="28.3" stroke="#333" stroke-width="2"/>
<line x1="390.5" y1="9.2" x2="395.0" y2="9.2" stroke="#333" stroke-width="2"/>
<line x1="450.0" y1="486.7" x2="450.0" y2="482.2" stroke="#333" stroke-width="2"/>
<line x1="509.5" y1="486.7" x2="509.5" y2="478.2" stroke="#333" stroke-width="2"/>
<line x1="568.9" y1="486.7" x2="568.9" y2="482.2" stroke="#333" stroke-width="2"/>
<line x1="628.4" y1="486.7" x2="628.4" y2="478.2" stroke="#333" stroke-width="2"/>
<line x1="687.9" y1="486.7" x2="687.9" y2="482.2" stroke="#333" stroke-width="2"/>
<line x1="747.4" y1="486.7" x2="747.4" y2="478.2" stroke="#333" stroke-width="2"/>
<line x1="806.9" y1="486.7" x2="806.9" y2="482.2" stroke="#333" stroke-width="2"/>
<line x1="866.3" y1="486.7" x2="866.3" y2="478.2" stroke="#333" stroke-width="2"/>
<line x1="925.8" y1="486.7" x2="925.8" y2="482.2" stroke="#333" stroke-width="2"/>
<line x1="985.3" y1="486.7" x2="985.3" y2="478.2" stroke="#333" stroke-width="2"/>
<text x="380.3" y="495.7" text-anchor="end" textLength="9.9" lengthAdjust="spacingAndGlyphs" class="tk tky">0</text>
<text x="380.3" y="457.5" text-anchor="end" textLength="9.9" lengthAdjust="spacingAndGlyphs" class="tk tky">2</text>
<text x="380.3" y="419.3" text-anchor="end" textLength="9.9" lengthAdjust="spacingAndGlyphs" class="tk tky">4</text>
<text x="380.3" y="381.1" text-anchor="end" textLength="9.9" lengthAdjust="spacingAndGlyphs" class="tk tky">6</text>
<text x="380.3" y="342.9" text-anchor="end" textLength="9.9" lengthAdjust="spacingAndGlyphs" class="tk tky">8</text>
<text x="380.3" y="304.7" text-anchor="end" textLength="19.8" lengthAdjust="spacingAndGlyphs" class="tk tky">10</text>
<text x="380.3" y="266.5" text-anchor="end" textLength="19.8" lengthAdjust="spacingAndGlyphs" class="tk tky">12</text>
<text x="380.3" y="228.3" text-anchor="end" textLength="19.8" lengthAdjust="spacingAndGlyphs" class="tk tky">14</text>
<text x="380.3" y="190.1" text-anchor="end" textLength="19.8" lengthAdjust="spacingAndGlyphs" class="tk tky">16</text>
<text x="380.3" y="151.9" text-anchor="end" textLength="19.8" lengthAdjust="spacingAndGlyphs" class="tk tky">18</text>
<text x="380.3" y="113.7" text-anchor="end" textLength="19.8" lengthAdjust="spacingAndGlyphs" class="tk tky">20</text>
<text x="380.3" y="75.5" text-anchor="end" textLength="19.8" lengthAdjust="spacingAndGlyphs" class="tk tky">22</text>
<text x="380.3" y="37.3" text-anchor="end" textLength="19.8" lengthAdjust="spacingAndGlyphs" class="tk tky">24</text>
<text x="391.1" y="515.0" text-anchor="middle" textLength="10.2" lengthAdjust="spacingAndGlyphs" class="tk tky">0</text>
<text x="510.1" y="515.0" text-anchor="middle" textLength="20.4" lengthAdjust="spacingAndGlyphs" class="tk tky">20</text>
<text x="629.0" y="515.0" text-anchor="middle" textLength="20.4" lengthAdjust="spacingAndGlyphs" class="tk tky">40</text>
<text x="748.0" y="515.0" text-anchor="middle" textLength="20.4" lengthAdjust="spacingAndGlyphs" class="tk tky">60</text>
<text x="866.9" y="515.0" text-anchor="middle" textLength="20.4" lengthAdjust="spacingAndGlyphs" class="tk tky">80</text>
<text x="985.9" y="515.0" text-anchor="middle" textLength="30.6" lengthAdjust="spacingAndGlyphs" class="tk tky">100</text>
<g transform="translate(334.40,376.30) rotate(-90)">
<text class="al" text-anchor="middle" transform="translate(0.00,0) scale(0.617,1)">G</text>
<text class="al" text-anchor="middle" transform="translate(12.56,0) scale(1.000,1)">r</text>
<text class="al" text-anchor="middle" transform="translate(25.13,0) scale(0.891,1)">o</text>
<text class="al" text-anchor="middle" transform="translate(37.69,0) scale(0.891,1)">u</text>
<text class="al" text-anchor="middle" transform="translate(50.25,0) scale(0.891,1)">n</text>
<text class="al" text-anchor="middle" transform="translate(62.82,0) scale(0.891,1)">d</text>
<text class="al" text-anchor="middle" transform="translate(87.95,0) scale(0.668,1)">R</text>
<text class="al" text-anchor="middle" transform="translate(100.51,0) scale(1.000,1)">e</text>
<text class="al" text-anchor="middle" transform="translate(113.07,0) scale(1.000,1)">a</text>
<text class="al" text-anchor="middle" transform="translate(125.64,0) scale(1.000,1)">c</text>
<text class="al" text-anchor="middle" transform="translate(138.20,0) scale(1.000,1)">t</text>
<text class="al" text-anchor="middle" transform="translate(150.76,0) scale(1.000,1)">i</text>
<text class="al" text-anchor="middle" transform="translate(163.33,0) scale(0.891,1)">o</text>
<text class="al" text-anchor="middle" transform="translate(175.89,0) scale(0.891,1)">n</text>
<text class="al" text-anchor="middle" transform="translate(201.02,0) scale(0.801,1)">F</text>
<text class="al" text-anchor="middle" transform="translate(213.58,0) scale(0.891,1)">o</text>
<text class="al" text-anchor="middle" transform="translate(226.15,0) scale(1.000,1)">r</text>
<text class="al" text-anchor="middle" transform="translate(238.71,0) scale(1.000,1)">c</text>
<text class="al" text-anchor="middle" transform="translate(251.27,0) scale(1.000,1)">e</text>
<text class="al" text-anchor="middle" transform="translate(263.84,0) scale(1.426,1)">/</text>
<text class="al" text-anchor="middle" transform="translate(276.40,0) scale(0.589,1)">%</text>
</g>
<g transform="translate(644.10,546.60)">
<text class="al" text-anchor="middle" transform="translate(0.00,0) scale(0.801,1)">S</text>
<text class="al" text-anchor="middle" transform="translate(12.66,0) scale(1.000,1)">t</text>
<text class="al" text-anchor="middle" transform="translate(25.31,0) scale(1.000,1)">a</text>
<text class="al" text-anchor="middle" transform="translate(37.97,0) scale(0.891,1)">n</text>
<text class="al" text-anchor="middle" transform="translate(50.63,0) scale(1.000,1)">c</text>
<text class="al" text-anchor="middle" transform="translate(63.29,0) scale(1.000,1)">e</text>
<text class="al" text-anchor="middle" transform="translate(75.94,0) scale(1.426,1)">/</text>
<text class="al" text-anchor="middle" transform="translate(88.60,0) scale(0.589,1)">%</text>
</g>
<line x1="394.3" y1="571.2" x2="394.3" y2="1053.4" stroke="#333" stroke-width="2.2"/>
<line x1="393.3" y1="1052.4" x2="991.1" y2="1052.4" stroke="#333" stroke-width="2.2"/>
<line x1="394.3" y1="1033.2" x2="398.8" y2="1033.2" stroke="#333" stroke-width="2"/>
<line x1="394.3" y1="1013.9" x2="402.3" y2="1013.9" stroke="#333" stroke-width="2"/>
<line x1="394.3" y1="994.7" x2="398.8" y2="994.7" stroke="#333" stroke-width="2"/>
<line x1="394.3" y1="975.4" x2="402.3" y2="975.4" stroke="#333" stroke-width="2"/>
<line x1="394.3" y1="956.2" x2="398.8" y2="956.2" stroke="#333" stroke-width="2"/>
<line x1="394.3" y1="936.9" x2="402.3" y2="936.9" stroke="#333" stroke-width="2"/>
<line x1="394.3" y1="917.7" x2="398.8" y2="917.7" stroke="#333" stroke-width="2"/>
<line x1="394.3" y1="898.4" x2="402.3" y2="898.4" stroke="#333" stroke-width="2"/>
<line x1="394.3" y1="879.2" x2="398.8" y2="879.2" stroke="#333" stroke-width="2"/>
<line x1="394.3" y1="859.9" x2="402.3" y2="859.9" stroke="#333" stroke-width="2"/>
<line x1="394.3" y1="840.7" x2="398.8" y2="840.7" stroke="#333" stroke-width="2"/>
<line x1="394.3" y1="821.4" x2="402.3" y2="821.4" stroke="#333" stroke-width="2"/>
<line x1="394.3" y1="802.2" x2="398.8" y2="802.2" stroke="#333" stroke-width="2"/>
<line x1="394.3" y1="782.9" x2="402.3" y2="782.9" stroke="#333" stroke-width="2"/>
<line x1="394.3" y1="763.7" x2="398.8" y2="763.7" stroke="#333" stroke-width="2"/>
<line x1="394.3" y1="744.4" x2="402.3" y2="744.4" stroke="#333" stroke-width="2"/>
<line x1="394.3" y1="725.2" x2="398.8" y2="725.2" stroke="#333" stroke-width="2"/>
<line x1="394.3" y1="705.9" x2="402.3" y2="705.9" stroke="#333" stroke-width="2"/>
<line x1="394.3" y1="686.7" x2="398.8" y2="686.7" stroke="#333" stroke-width="2"/>
<line x1="394.3" y1="667.4" x2="402.3" y2="667.4" stroke="#333" stroke-width="2"/>
<line x1="394.3" y1="648.2" x2="398.8" y2="648.2" stroke="#333" stroke-width="2"/>
<line x1="394.3" y1="628.9" x2="402.3" y2="628.9" stroke="#333" stroke-width="2"/>
<line x1="394.3" y1="609.7" x2="398.8" y2="609.7" stroke="#333" stroke-width="2"/>
<line x1="394.3" y1="590.4" x2="402.3" y2="590.4" stroke="#333" stroke-width="2"/>
<line x1="394.3" y1="571.2" x2="398.8" y2="571.2" stroke="#333" stroke-width="2"/>
<line x1="453.9" y1="1052.4" x2="453.9" y2="1047.9" stroke="#333" stroke-width="2"/>
<line x1="513.5" y1="1052.4" x2="513.5" y2="1043.9" stroke="#333" stroke-width="2"/>
<line x1="573.0" y1="1052.4" x2="573.0" y2="1047.9" stroke="#333" stroke-width="2"/>
<line x1="632.6" y1="1052.4" x2="632.6" y2="1043.9" stroke="#333" stroke-width="2"/>
<line x1="692.2" y1="1052.4" x2="692.2" y2="1047.9" stroke="#333" stroke-width="2"/>
<line x1="751.8" y1="1052.4" x2="751.8" y2="1043.9" stroke="#333" stroke-width="2"/>
<line x1="811.4" y1="1052.4" x2="811.4" y2="1047.9" stroke="#333" stroke-width="2"/>
<line x1="870.9" y1="1052.4" x2="870.9" y2="1043.9" stroke="#333" stroke-width="2"/>
<line x1="930.5" y1="1052.4" x2="930.5" y2="1047.9" stroke="#333" stroke-width="2"/>
<line x1="990.1" y1="1052.4" x2="990.1" y2="1043.9" stroke="#333" stroke-width="2"/>
<text x="383.6" y="1061.4" text-anchor="end" textLength="9.9" lengthAdjust="spacingAndGlyphs" class="tk tky">0</text>
<text x="383.6" y="1022.9" text-anchor="end" textLength="9.9" lengthAdjust="spacingAndGlyphs" class="tk tky">2</text>
<text x="383.6" y="984.4" text-anchor="end" textLength="9.9" lengthAdjust="spacingAndGlyphs" class="tk tky">4</text>
<text x="383.6" y="945.9" text-anchor="end" textLength="9.9" lengthAdjust="spacingAndGlyphs" class="tk tky">6</text>
<text x="383.6" y="907.4" text-anchor="end" textLength="9.9" lengthAdjust="spacingAndGlyphs" class="tk tky">8</text>
<text x="383.6" y="868.9" text-anchor="end" textLength="19.8" lengthAdjust="spacingAndGlyphs" class="tk tky">10</text>
<text x="383.6" y="830.4" text-anchor="end" textLength="19.8" lengthAdjust="spacingAndGlyphs" class="tk tky">12</text>
<text x="383.6" y="791.9" text-anchor="end" textLength="19.8" lengthAdjust="spacingAndGlyphs" class="tk tky">14</text>
<text x="383.6" y="753.4" text-anchor="end" textLength="19.8" lengthAdjust="spacingAndGlyphs" class="tk tky">16</text>
<text x="383.6" y="714.9" text-anchor="end" textLength="19.8" lengthAdjust="spacingAndGlyphs" class="tk tky">18</text>
<text x="383.6" y="676.4" text-anchor="end" textLength="19.8" lengthAdjust="spacingAndGlyphs" class="tk tky">20</text>
<text x="383.6" y="637.9" text-anchor="end" textLength="19.8" lengthAdjust="spacingAndGlyphs" class="tk tky">22</text>
<text x="383.6" y="599.4" text-anchor="end" textLength="19.8" lengthAdjust="spacingAndGlyphs" class="tk tky">24</text>
<text x="394.9" y="1081.1" text-anchor="middle" textLength="10.2" lengthAdjust="spacingAndGlyphs" class="tk tky">0</text>
<text x="514.1" y="1081.1" text-anchor="middle" textLength="20.4" lengthAdjust="spacingAndGlyphs" class="tk tky">20</text>
<text x="633.2" y="1081.1" text-anchor="middle" textLength="20.4" lengthAdjust="spacingAndGlyphs" class="tk tky">40</text>
<text x="752.4" y="1081.1" text-anchor="middle" textLength="20.4" lengthAdjust="spacingAndGlyphs" class="tk tky">60</text>
<text x="871.5" y="1081.1" text-anchor="middle" textLength="20.4" lengthAdjust="spacingAndGlyphs" class="tk tky">80</text>
<text x="990.7" y="1081.1" text-anchor="middle" textLength="30.6" lengthAdjust="spacingAndGlyphs" class="tk tky">100</text>
<g transform="translate(338.70,941.70) rotate(-90)">
<text class="al" text-anchor="middle" transform="translate(0.00,0) scale(0.617,1)">G</text>
<text class="al" text-anchor="middle" transform="translate(12.63,0) scale(1.000,1)">r</text>
<text class="al" text-anchor="middle" transform="translate(25.25,0) scale(0.891,1)">o</text>
<text class="al" text-anchor="middle" transform="translate(37.88,0) scale(0.891,1)">u</text>
<text class="al" text-anchor="middle" transform="translate(50.51,0) scale(0.891,1)">n</text>
<text class="al" text-anchor="middle" transform="translate(63.14,0) scale(0.891,1)">d</text>
<text class="al" text-anchor="middle" transform="translate(88.39,0) scale(0.668,1)">R</text>
<text class="al" text-anchor="middle" transform="translate(101.02,0) scale(1.000,1)">e</text>
<text class="al" text-anchor="middle" transform="translate(113.65,0) scale(1.000,1)">a</text>
<text class="al" text-anchor="middle" transform="translate(126.27,0) scale(1.000,1)">c</text>
<text class="al" text-anchor="middle" transform="translate(138.90,0) scale(1.000,1)">t</text>
<text class="al" text-anchor="middle" transform="translate(151.53,0) scale(1.000,1)">i</text>
<text class="al" text-anchor="middle" transform="translate(164.15,0) scale(0.891,1)">o</text>
<text class="al" text-anchor="middle" transform="translate(176.78,0) scale(0.891,1)">n</text>
<text class="al" text-anchor="middle" transform="translate(202.04,0) scale(0.801,1)">F</text>
<text class="al" text-anchor="middle" transform="translate(214.66,0) scale(0.891,1)">o</text>
<text class="al" text-anchor="middle" transform="translate(227.29,0) scale(1.000,1)">r</text>
<text class="al" text-anchor="middle" transform="translate(239.92,0) scale(1.000,1)">c</text>
<text class="al" text-anchor="middle" transform="translate(252.55,0) scale(1.000,1)">e</text>
<text class="al" text-anchor="middle" transform="translate(265.17,0) scale(1.426,1)">/</text>
<text class="al" text-anchor="middle" transform="translate(277.80,0) scale(0.589,1)">%</text>
</g>
<g transform="translate(647.80,1113.40)">
<text class="al" text-anchor="middle" transform="translate(0.00,0) scale(0.801,1)">S</text>
<text class="al" text-anchor="middle" transform="translate(12.67,0) scale(1.000,1)">t</text>
<text class="al" text-anchor="middle" transform="translate(25.34,0) scale(1.000,1)">a</text>
<text class="al" text-anchor="middle" transform="translate(38.01,0) scale(0.891,1)">n</text>
<text class="al" text-anchor="middle" transform="translate(50.69,0) scale(1.000,1)">c</text>
<text class="al" text-anchor="middle" transform="translate(63.36,0) scale(1.000,1)">e</text>
<text class="al" text-anchor="middle" transform="translate(76.03,0) scale(1.426,1)">/</text>
<text class="al" text-anchor="middle" transform="translate(88.70,0) scale(0.589,1)">%</text>
</g>
<polygon points="1105.3,37.5 1126.2,37.5 1126.2,50.3 1149.2,50.3 1149.2,88.9 1137.4,88.9 1137.4,101.7 1126.2,101.7 1126.2,115.1 1095.7,115.1 1095.7,127.4 1083.9,127.4 1083.9,101.7 1073.2,101.7 1073.2,88.7 1063.0,88.7 1063.0,75.5 1073.2,75.5 1073.2,63.2 1083.9,63.2 1083.9,50.3 1105.3,50.3" fill="#fff" stroke="#6a6a6a" stroke-width="1.4" stroke-linejoin="miter"/>
<polygon points="1062.5,140.2 1158.3,140.2 1158.3,170.7 1148.1,170.7 1148.1,217.8 1083.9,217.8 1083.9,204.9 1073.2,204.9 1073.2,192.1 1062.5,192.1 1062.5,179.8 1051.8,179.8 1051.8,153.0 1062.5,153.0" fill="#fff" stroke="#6a6a6a" stroke-width="1.4" stroke-linejoin="miter"/>
<polygon points="1158.2,140.2 1168.7,140.2 1168.7,153.5 1189.2,153.5 1189.2,166.4 1177.5,166.4 1177.5,230.6 1166.8,230.6 1166.8,243.5 1157.1,243.5 1157.1,230.6 1148.0,230.6 1148.0,170.7 1158.2,170.7" fill="#d6d6d6" stroke="#555" stroke-width="1.4" stroke-linejoin="miter"/>
<polygon points="1177.5,166.4 1189.2,166.4 1189.2,153.5 1201.0,153.5 1201.0,166.4 1220.3,166.4 1220.3,178.2 1210.1,178.2 1210.1,217.8 1200.0,217.8 1200.0,255.4 1180.0,255.4 1180.0,243.5 1166.8,243.5 1166.8,230.6 1177.5,230.6" fill="#c1c1c1" stroke="#555" stroke-width="1.4" stroke-linejoin="miter"/>
<polygon points="1220.3,166.4 1232.0,166.4 1232.0,179.8 1252.4,179.8 1252.4,243.5 1242.8,243.5 1242.8,269.5 1231.8,269.5 1231.8,256.8 1200.0,255.4 1200.0,217.8 1210.1,217.8 1210.1,178.2 1220.3,178.2" fill="#c1c1c1" stroke="#555" stroke-width="1.4" stroke-linejoin="miter"/>
<polygon points="1149.2,50.3 1157.1,50.3 1157.1,37.5 1168.7,37.5 1168.7,50.3 1190.1,50.3 1190.1,63.4 1210.6,63.4 1210.6,88.7 1231.5,88.7 1231.5,114.3 1242.8,114.3 1242.8,140.8 1252.9,140.8 1252.9,179.8 1232.0,179.8 1232.0,166.4 1220.3,166.4 1220.3,154.6 1210.1,154.6 1210.1,127.4 1200.5,127.4 1200.5,140.8 1189.8,140.8 1189.8,101.7 1178.0,101.7 1178.0,88.7 1149.2,88.7" fill="none" stroke="#6a6a6a" stroke-width="1.4" stroke-linejoin="miter"/>
<polygon points="1146.8,244.0 1180.0,244.0 1180.0,255.4 1231.8,256.8 1231.8,282.9 1221.1,282.9 1221.1,309.6 1211.0,309.6 1211.0,333.7 1201.0,333.7 1201.0,347.8 1191.2,347.8 1191.2,386.2 1179.1,386.2 1179.1,398.9 1137.0,398.9 1137.0,386.2 1084.1,386.2 1084.1,359.4 1105.6,359.4 1105.6,346.0 1125.4,346.0 1125.4,333.7 1147.5,333.7 1147.5,309.0 1157.5,309.0 1157.5,257.4 1146.8,257.4" fill="#aaaaaa" stroke="#555" stroke-width="1.4" stroke-linejoin="miter"/>
<polygon points="1073.4,372.8 1084.1,372.8 1084.1,386.2 1124.3,386.2 1124.3,410.9 1116.9,410.9 1116.9,436.3 1125.6,436.3 1125.6,461.7 1114.2,461.7 1114.2,476.5 1125.0,476.5 1125.0,486.0 1094.2,486.0 1094.2,476.5 1073.4,476.5 1073.4,462.4 1062.7,462.4 1062.7,437.0 1052.0,437.0 1052.0,412.2 1062.1,412.2 1062.1,385.5 1073.4,385.5" fill="#3b3b3b" stroke="#555" stroke-width="1.4" stroke-linejoin="miter"/>
<polygon points="1124.3,386.2 1137.0,386.2 1137.0,398.9 1189.8,398.9 1189.8,425.0 1178.5,425.0 1178.5,462.4 1169.1,462.4 1169.1,476.5 1147.7,476.5 1147.7,486.0 1125.0,486.0 1125.0,476.5 1114.2,476.5 1114.2,461.7 1125.6,461.7 1125.6,436.3 1116.9,436.3 1116.9,410.9 1124.3,410.9" fill="#4c4c4c" stroke="#555" stroke-width="1.4" stroke-linejoin="miter"/>
<g transform="translate(-3.2,566.89) scale(1,1.0056)">
<polygon points="1105.3,37.5 1126.2,37.5 1126.2,50.3 1149.2,50.3 1149.2,88.9 1137.4,88.9 1137.4,101.7 1126.2,101.7 1126.2,115.1 1095.7,115.1 1095.7,127.4 1083.9,127.4 1083.9,101.7 1073.2,101.7 1073.2,88.7 1063.0,88.7 1063.0,75.5 1073.2,75.5 1073.2,63.2 1083.9,63.2 1083.9,50.3 1105.3,50.3" fill="#878787" stroke="#555" stroke-width="1.4" stroke-linejoin="miter"/>
<polygon points="1149.2,50.3 1157.1,50.3 1157.1,37.5 1168.7,37.5 1168.7,50.3 1190.1,50.3 1190.1,63.4 1210.6,63.4 1210.6,88.7 1231.5,88.7 1231.5,114.3 1242.8,114.3 1242.8,140.8 1252.9,140.8 1252.9,179.8 1232.0,179.8 1232.0,166.4 1220.3,166.4 1220.3,154.6 1210.1,154.6 1210.1,127.4 1200.5,127.4 1200.5,140.8 1189.8,140.8 1189.8,101.7 1178.0,101.7 1178.0,88.7 1149.2,88.7" fill="#e6e6e6" stroke="#555" stroke-width="1.4" stroke-linejoin="miter"/>
<polygon points="1062.5,140.2 1115.1,140.2 1115.1,217.8 1083.9,217.8 1083.9,204.9 1073.2,204.9 1073.2,192.1 1062.5,192.1 1062.5,179.8 1051.8,179.8 1051.8,153.0 1062.5,153.0" fill="#878787" stroke="#555" stroke-width="1.4" stroke-linejoin="miter"/>
<polygon points="1115.1,140.2 1168.7,140.2 1168.7,153.5 1189.2,153.5 1189.2,166.4 1177.5,166.4 1177.5,230.6 1166.8,230.6 1166.8,243.5 1157.1,243.5 1157.1,230.6 1148.0,230.6 1148.0,217.8 1115.1,217.8" fill="#525252" stroke="#555" stroke-width="1.4" stroke-linejoin="miter"/>
<polygon points="1177.5,166.4 1189.2,166.4 1189.2,153.5 1201.0,153.5 1201.0,166.4 1220.3,166.4 1220.3,178.2 1210.1,178.2 1210.1,217.8 1200.0,217.8 1200.0,255.4 1180.0,255.4 1180.0,243.5 1166.8,243.5 1166.8,230.6 1177.5,230.6" fill="#717171" stroke="#555" stroke-width="1.4" stroke-linejoin="miter"/>
<polygon points="1220.3,166.4 1232.0,166.4 1232.0,179.8 1252.4,179.8 1252.4,243.5 1242.8,243.5 1242.8,269.5 1231.8,269.5 1231.8,256.8 1200.0,255.4 1200.0,217.8 1210.1,217.8 1210.1,178.2 1220.3,178.2" fill="#878787" stroke="#555" stroke-width="1.4" stroke-linejoin="miter"/>
<polygon points="1146.8,244.0 1180.0,244.0 1180.0,255.4 1231.8,256.8 1231.8,282.9 1221.1,282.9 1221.1,309.6 1211.0,309.6 1211.0,333.7 1201.0,333.7 1201.0,347.8 1191.2,347.8 1191.2,386.2 1179.1,386.2 1179.1,398.9 1137.0,398.9 1137.0,386.2 1084.1,386.2 1084.1,359.4 1105.6,359.4 1105.6,346.0 1125.4,346.0 1125.4,333.7 1147.5,333.7 1147.5,309.0 1157.5,309.0 1157.5,257.4 1146.8,257.4" fill="#fff" stroke="#6a6a6a" stroke-width="1.4" stroke-linejoin="miter"/>
<polygon points="1073.4,372.8 1084.1,372.8 1084.1,386.2 1124.3,386.2 1124.3,410.9 1116.9,410.9 1116.9,436.3 1125.6,436.3 1125.6,461.7 1114.2,461.7 1114.2,476.5 1125.0,476.5 1125.0,486.0 1094.2,486.0 1094.2,476.5 1073.4,476.5 1073.4,462.4 1062.7,462.4 1062.7,437.0 1052.0,437.0 1052.0,412.2 1062.1,412.2 1062.1,385.5 1073.4,385.5" fill="#fff" stroke="#6a6a6a" stroke-width="1.4" stroke-linejoin="miter"/>
<polygon points="1124.3,386.2 1137.0,386.2 1137.0,398.9 1189.8,398.9 1189.8,425.0 1178.5,425.0 1178.5,462.4 1169.1,462.4 1169.1,476.5 1147.7,476.5 1147.7,486.0 1125.0,486.0 1125.0,476.5 1114.2,476.5 1114.2,461.7 1125.6,461.7 1125.6,436.3 1116.9,436.3 1116.9,410.9 1124.3,410.9" fill="#fff" stroke="#6a6a6a" stroke-width="1.4" stroke-linejoin="miter"/>
</g>
<rect x="1338.9" y="53.6" width="45.3" height="422.2" fill="url(#g1)" stroke="#5e5e5e" stroke-width="1.4"/>
<text x="1388.5" y="481.1" class="cb">0</text>
<line x1="1380.2" y1="433.6" x2="1384.2" y2="433.6" stroke="#444" stroke-width="1"/>
<text x="1388.5" y="438.9" class="cb">5</text>
<line x1="1380.2" y1="391.4" x2="1384.2" y2="391.4" stroke="#444" stroke-width="1"/>
<text x="1388.5" y="396.7" class="cb">10</text>
<line x1="1380.2" y1="349.1" x2="1384.2" y2="349.1" stroke="#444" stroke-width="1"/>
<text x="1388.5" y="354.4" class="cb">15</text>
<line x1="1380.2" y1="306.9" x2="1384.2" y2="306.9" stroke="#444" stroke-width="1"/>
<text x="1388.5" y="312.2" class="cb">20</text>
<line x1="1380.2" y1="264.7" x2="1384.2" y2="264.7" stroke="#444" stroke-width="1"/>
<text x="1388.5" y="270.0" class="cb">25</text>
<line x1="1380.2" y1="222.5" x2="1384.2" y2="222.5" stroke="#444" stroke-width="1"/>
<text x="1388.5" y="227.8" class="cb">30</text>
<line x1="1380.2" y1="180.3" x2="1384.2" y2="180.3" stroke="#444" stroke-width="1"/>
<text x="1388.5" y="185.6" class="cb">35</text>
<line x1="1380.2" y1="138.0" x2="1384.2" y2="138.0" stroke="#444" stroke-width="1"/>
<text x="1388.5" y="143.3" class="cb">40</text>
<line x1="1380.2" y1="95.8" x2="1384.2" y2="95.8" stroke="#444" stroke-width="1"/>
<text x="1388.5" y="101.1" class="cb">45</text>
<text x="1388.5" y="58.9" class="cb">50</text>
<rect x="1338.9" y="615.1" width="45.3" height="423.8" fill="url(#g1)" stroke="#5e5e5e" stroke-width="1.4"/>
<text x="1388.5" y="1044.2" class="cb">0</text>
<line x1="1380.2" y1="996.5" x2="1384.2" y2="996.5" stroke="#444" stroke-width="1"/>
<text x="1388.5" y="1001.8" class="cb">5</text>
<line x1="1380.2" y1="954.1" x2="1384.2" y2="954.1" stroke="#444" stroke-width="1"/>
<text x="1388.5" y="959.4" class="cb">10</text>
<line x1="1380.2" y1="911.8" x2="1384.2" y2="911.8" stroke="#444" stroke-width="1"/>
<text x="1388.5" y="917.1" class="cb">15</text>
<line x1="1380.2" y1="869.4" x2="1384.2" y2="869.4" stroke="#444" stroke-width="1"/>
<text x="1388.5" y="874.7" class="cb">20</text>
<line x1="1380.2" y1="827.0" x2="1384.2" y2="827.0" stroke="#444" stroke-width="1"/>
<text x="1388.5" y="832.3" class="cb">25</text>
<line x1="1380.2" y1="784.6" x2="1384.2" y2="784.6" stroke="#444" stroke-width="1"/>
<text x="1388.5" y="789.9" class="cb">30</text>
<line x1="1380.2" y1="742.2" x2="1384.2" y2="742.2" stroke="#444" stroke-width="1"/>
<text x="1388.5" y="747.5" class="cb">35</text>
<line x1="1380.2" y1="699.9" x2="1384.2" y2="699.9" stroke="#444" stroke-width="1"/>
<text x="1388.5" y="705.2" class="cb">40</text>
<line x1="1380.2" y1="657.5" x2="1384.2" y2="657.5" stroke="#444" stroke-width="1"/>
<text x="1388.5" y="662.8" class="cb">45</text>
<text x="1388.5" y="620.4" class="cb">50</text>
<text x="1029.2" y="542.4" class="cap" textLength="415.6" lengthAdjust="spacingAndGlyphs">Weight Distribution across Foot Regions</text>
<text x="1044.4" y="1109.6" class="cap" textLength="417.2" lengthAdjust="spacingAndGlyphs">Weight Distribution across Foot Regions</text>
</svg></body></html>
